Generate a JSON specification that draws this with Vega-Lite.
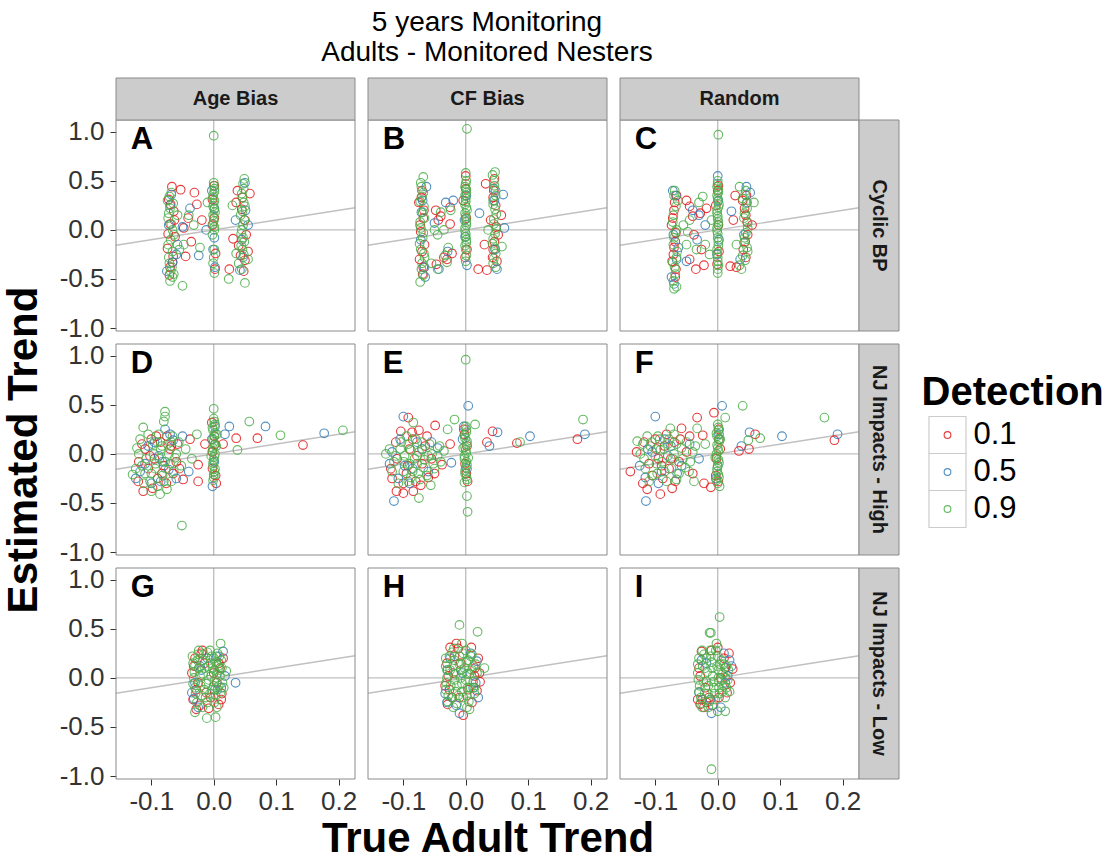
{
  "$schema": "https://vega.github.io/schema/vega-lite/v6.json",
  "background": "white",
  "padding": {"left": 2, "top": 8, "right": 5, "bottom": 5},
  "title": {
    "text": ["5 years Monitoring", "Adults - Monitored Nesters"],
    "fontSize": 28,
    "fontWeight": "normal",
    "font": "Liberation Sans",
    "color": "#000000",
    "lineHeight": 30,
    "anchor": "middle",
    "frame": "group",
    "dx": 371,
    "offset": 11
  },
  "config": {
    "font": "Liberation Sans",
    "view": {"stroke": null},
    "axis": {"labelFontSize": 26, "labelColor": "#333333", "tickColor": "#333333", "tickSize": 6, "domain": false, "grid": false, "titleFontSize": 42, "titleFontWeight": "bold", "titleColor": "#000000"},
    "axisY": {"labelPadding": 6, "titlePadding": 14},
    "axisX": {"labelPadding": 3, "titlePadding": 4}
  },
  "datasets": {
    "pts": [
      {"p":"A","d":"0.1","x":-0.067,"y":0.44},{"p":"A","d":"0.1","x":-0.053,"y":0.41},{"p":"A","d":"0.1","x":-0.072,"y":0.31},{"p":"A","d":"0.1","x":-0.064,"y":0.19},{"p":"A","d":"0.1","x":-0.070,"y":0.06},{"p":"A","d":"0.1","x":-0.062,"y":-0.07},{"p":"A","d":"0.1","x":-0.074,"y":-0.19},{"p":"A","d":"0.1","x":-0.066,"y":-0.33},{"p":"A","d":"0.1","x":-0.071,"y":-0.46},{"p":"A","d":"0.1","x":-0.041,"y":0.12},{"p":"A","d":"0.1","x":-0.031,"y":0.38},{"p":"A","d":"0.1","x":-0.027,"y":0.26},{"p":"A","d":"0.1","x":-0.036,"y":-0.12},{"p":"A","d":"0.1","x":-0.019,"y":0.10},{"p":"A","d":"0.1","x":-0.045,"y":-0.27},{"p":"A","d":"0.1","x":-0.048,"y":0.02},{"p":"A","d":"0.1","x":-0.002,"y":0.31},{"p":"A","d":"0.1","x":0.003,"y":-0.24},{"p":"A","d":"0.1","x":0.001,"y":0.12},{"p":"A","d":"0.1","x":0.002,"y":-0.40},{"p":"A","d":"0.1","x":0.038,"y":0.40},{"p":"A","d":"0.1","x":0.045,"y":0.21},{"p":"A","d":"0.1","x":0.052,"y":-0.05},{"p":"A","d":"0.1","x":0.040,"y":-0.16},{"p":"A","d":"0.1","x":0.050,"y":-0.31},{"p":"A","d":"0.1","x":0.025,"y":-0.40},{"p":"A","d":"0.1","x":0.058,"y":0.37},{"p":"A","d":"0.1","x":0.031,"y":-0.09},{"p":"A","d":"0.1","x":0.036,"y":0.28},{"p":"A","d":"0.1","x":0.055,"y":-0.22},
      {"p":"A","d":"0.1","x":-0.069,"y":0.26},{"p":"A","d":"0.1","x":-0.073,"y":-0.04},{"p":"A","d":"0.1","x":-0.065,"y":-0.27},{"p":"A","d":"0.1","x":-0.070,"y":-0.38},{"p":"A","d":"0.1","x":0.001,"y":0.45},{"p":"A","d":"0.1","x":-0.002,"y":0.05},{"p":"A","d":"0.1","x":0.046,"y":0.33},{"p":"A","d":"0.1","x":0.050,"y":0.10},{"p":"A","d":"0.1","x":0.043,"y":-0.26},{"p":"A","d":"0.1","x":0.048,"y":-0.42},{"p":"A","d":"0.1","x":-0.063,"y":0.10},
      {"p":"A","d":"0.5","x":-0.070,"y":0.25},{"p":"A","d":"0.5","x":-0.060,"y":-0.25},{"p":"A","d":"0.5","x":-0.075,"y":-0.42},{"p":"A","d":"0.5","x":-0.038,"y":0.22},{"p":"A","d":"0.5","x":-0.024,"y":-0.26},{"p":"A","d":"0.5","x":-0.050,"y":0.03},{"p":"A","d":"0.5","x":-0.012,"y":0.00},{"p":"A","d":"0.5","x":0.002,"y":-0.38},{"p":"A","d":"0.5","x":-0.003,"y":0.40},{"p":"A","d":"0.5","x":0.001,"y":-0.08},{"p":"A","d":"0.5","x":0.050,"y":0.48},{"p":"A","d":"0.5","x":0.042,"y":-0.41},{"p":"A","d":"0.5","x":0.035,"y":0.10},{"p":"A","d":"0.5","x":0.055,"y":0.05},{"p":"A","d":"0.5","x":0.047,"y":-0.28},{"p":"A","d":"0.5","x":-0.068,"y":0.36},{"p":"A","d":"0.5","x":-0.058,"y":-0.15},
      {"p":"A","d":"0.5","x":-0.072,"y":0.05},{"p":"A","d":"0.5","x":-0.066,"y":-0.33},{"p":"A","d":"0.5","x":0.001,"y":0.22},{"p":"A","d":"0.5","x":-0.001,"y":-0.20},{"p":"A","d":"0.5","x":0.045,"y":-0.10},{"p":"A","d":"0.5","x":0.051,"y":0.20},
      {"p":"A","d":"0.9","x":0.000,"y":0.96},{"p":"A","d":"0.9","x":-0.068,"y":0.38},{"p":"A","d":"0.9","x":-0.070,"y":0.22},{"p":"A","d":"0.9","x":-0.073,"y":0.12},{"p":"A","d":"0.9","x":-0.066,"y":0.00},{"p":"A","d":"0.9","x":-0.069,"y":-0.10},{"p":"A","d":"0.9","x":-0.072,"y":-0.28},{"p":"A","d":"0.9","x":-0.067,"y":-0.38},{"p":"A","d":"0.9","x":-0.070,"y":-0.52},{"p":"A","d":"0.9","x":-0.050,"y":-0.57},{"p":"A","d":"0.9","x":-0.058,"y":0.15},{"p":"A","d":"0.9","x":-0.048,"y":-0.15},{"p":"A","d":"0.9","x":-0.032,"y":0.05},{"p":"A","d":"0.9","x":-0.022,"y":-0.18},{"p":"A","d":"0.9","x":-0.010,"y":0.28},{"p":"A","d":"0.9","x":-0.064,"y":-0.45},{"p":"A","d":"0.9","x":-0.074,"y":0.30},{"p":"A","d":"0.9","x":0.000,"y":0.48},{"p":"A","d":"0.9","x":0.001,"y":0.42},{"p":"A","d":"0.9","x":-0.001,"y":0.36},{"p":"A","d":"0.9","x":0.001,"y":0.30},{"p":"A","d":"0.9","x":-0.001,"y":0.24},{"p":"A","d":"0.9","x":0.002,"y":0.18},{"p":"A","d":"0.9","x":0.000,"y":0.12},{"p":"A","d":"0.9","x":-0.001,"y":0.06},{"p":"A","d":"0.9","x":0.001,"y":0.00},{"p":"A","d":"0.9","x":-0.002,"y":-0.05},{"p":"A","d":"0.9","x":0.001,"y":-0.20},{"p":"A","d":"0.9","x":0.000,"y":-0.28},{"p":"A","d":"0.9","x":-0.001,"y":-0.34},{"p":"A","d":"0.9","x":0.001,"y":-0.44},{"p":"A","d":"0.9","x":0.049,"y":0.52},{"p":"A","d":"0.9","x":0.048,"y":0.42},{"p":"A","d":"0.9","x":0.046,"y":0.33},{"p":"A","d":"0.9","x":0.050,"y":0.24},{"p":"A","d":"0.9","x":0.043,"y":0.15},{"p":"A","d":"0.9","x":0.047,"y":0.05},{"p":"A","d":"0.9","x":0.044,"y":-0.04},{"p":"A","d":"0.9","x":0.049,"y":-0.12},{"p":"A","d":"0.9","x":0.046,"y":-0.20},{"p":"A","d":"0.9","x":0.040,"y":-0.34},{"p":"A","d":"0.9","x":0.024,"y":-0.50},{"p":"A","d":"0.9","x":0.050,"y":-0.54},{"p":"A","d":"0.9","x":0.030,"y":0.25},{"p":"A","d":"0.9","x":0.055,"y":-0.30},{"p":"A","d":"0.9","x":0.036,"y":-0.24},
      {"p":"A","d":"0.9","x":-0.071,"y":0.34},{"p":"A","d":"0.9","x":-0.065,"y":0.27},{"p":"A","d":"0.9","x":-0.072,"y":0.17},{"p":"A","d":"0.9","x":-0.068,"y":0.06},{"p":"A","d":"0.9","x":-0.064,"y":-0.05},{"p":"A","d":"0.9","x":-0.073,"y":-0.15},{"p":"A","d":"0.9","x":-0.066,"y":-0.22},{"p":"A","d":"0.9","x":-0.071,"y":-0.34},{"p":"A","d":"0.9","x":-0.069,"y":-0.42},{"p":"A","d":"0.9","x":-0.066,"y":-0.48},{"p":"A","d":"0.9","x":0.000,"y":0.45},{"p":"A","d":"0.9","x":0.001,"y":0.39},{"p":"A","d":"0.9","x":-0.001,"y":0.33},{"p":"A","d":"0.9","x":0.000,"y":0.27},{"p":"A","d":"0.9","x":0.001,"y":0.21},{"p":"A","d":"0.9","x":-0.001,"y":0.15},{"p":"A","d":"0.9","x":0.000,"y":0.09},{"p":"A","d":"0.9","x":0.001,"y":0.03},{"p":"A","d":"0.9","x":0.047,"y":0.47},{"p":"A","d":"0.9","x":0.045,"y":0.37},{"p":"A","d":"0.9","x":0.048,"y":0.28},{"p":"A","d":"0.9","x":0.046,"y":0.19},{"p":"A","d":"0.9","x":0.049,"y":0.10},{"p":"A","d":"0.9","x":0.045,"y":0.00},{"p":"A","d":"0.9","x":0.047,"y":-0.08},{"p":"A","d":"0.9","x":0.044,"y":-0.16},{"p":"A","d":"0.9","x":0.048,"y":-0.25},{"p":"A","d":"0.9","x":0.045,"y":-0.40},{"p":"A","d":"0.9","x":-0.055,"y":-0.20},{"p":"A","d":"0.9","x":-0.040,"y":0.15},

      {"p":"B","d":"0.1","x":-0.070,"y":0.40},{"p":"B","d":"0.1","x":-0.075,"y":0.28},{"p":"B","d":"0.1","x":-0.068,"y":0.12},{"p":"B","d":"0.1","x":-0.072,"y":-0.02},{"p":"B","d":"0.1","x":-0.066,"y":-0.15},{"p":"B","d":"0.1","x":-0.074,"y":-0.30},{"p":"B","d":"0.1","x":-0.069,"y":-0.45},{"p":"B","d":"0.1","x":-0.044,"y":0.10},{"p":"B","d":"0.1","x":-0.040,"y":0.14},{"p":"B","d":"0.1","x":-0.025,"y":0.06},{"p":"B","d":"0.1","x":-0.047,"y":-0.35},{"p":"B","d":"0.1","x":-0.030,"y":-0.30},{"p":"B","d":"0.1","x":-0.022,"y":-0.24},{"p":"B","d":"0.1","x":-0.025,"y":0.23},{"p":"B","d":"0.1","x":0.000,"y":0.55},{"p":"B","d":"0.1","x":-0.004,"y":0.30},{"p":"B","d":"0.1","x":0.002,"y":-0.20},{"p":"B","d":"0.1","x":0.032,"y":0.47},{"p":"B","d":"0.1","x":0.045,"y":0.40},{"p":"B","d":"0.1","x":0.048,"y":0.25},{"p":"B","d":"0.1","x":0.040,"y":0.10},{"p":"B","d":"0.1","x":0.052,"y":-0.05},{"p":"B","d":"0.1","x":0.044,"y":-0.20},{"p":"B","d":"0.1","x":0.050,"y":-0.32},{"p":"B","d":"0.1","x":0.020,"y":-0.40},{"p":"B","d":"0.1","x":0.034,"y":-0.41},{"p":"B","d":"0.1","x":0.030,"y":-0.15},{"p":"B","d":"0.1","x":0.057,"y":0.15},
      {"p":"B","d":"0.1","x":-0.071,"y":0.33},{"p":"B","d":"0.1","x":-0.067,"y":0.20},{"p":"B","d":"0.1","x":-0.073,"y":0.05},{"p":"B","d":"0.1","x":-0.070,"y":-0.22},{"p":"B","d":"0.1","x":-0.068,"y":-0.38},{"p":"B","d":"0.1","x":0.000,"y":0.42},{"p":"B","d":"0.1","x":0.001,"y":0.12},{"p":"B","d":"0.1","x":-0.001,"y":-0.28},{"p":"B","d":"0.1","x":0.046,"y":0.52},{"p":"B","d":"0.1","x":0.044,"y":0.33},{"p":"B","d":"0.1","x":0.049,"y":0.03},{"p":"B","d":"0.1","x":0.046,"y":-0.12},{"p":"B","d":"0.1","x":0.043,"y":-0.28},{"p":"B","d":"0.1","x":-0.048,"y":0.20},{"p":"B","d":"0.1","x":-0.035,"y":-0.28},
      {"p":"B","d":"0.5","x":-0.063,"y":0.44},{"p":"B","d":"0.5","x":-0.071,"y":0.18},{"p":"B","d":"0.5","x":-0.066,"y":-0.38},{"p":"B","d":"0.5","x":-0.032,"y":0.28},{"p":"B","d":"0.5","x":-0.050,"y":0.07},{"p":"B","d":"0.5","x":-0.029,"y":-0.22},{"p":"B","d":"0.5","x":-0.020,"y":0.30},{"p":"B","d":"0.5","x":0.002,"y":-0.36},{"p":"B","d":"0.5","x":-0.002,"y":0.10},{"p":"B","d":"0.5","x":0.060,"y":0.36},{"p":"B","d":"0.5","x":0.050,"y":-0.40},{"p":"B","d":"0.5","x":0.062,"y":0.02},{"p":"B","d":"0.5","x":0.022,"y":0.17},{"p":"B","d":"0.5","x":0.046,"y":0.30},
      {"p":"B","d":"0.5","x":-0.069,"y":0.30},{"p":"B","d":"0.5","x":-0.072,"y":-0.10},{"p":"B","d":"0.5","x":-0.065,"y":-0.48},{"p":"B","d":"0.5","x":0.001,"y":0.35},{"p":"B","d":"0.5","x":-0.001,"y":-0.07},{"p":"B","d":"0.5","x":0.045,"y":0.42},{"p":"B","d":"0.5","x":0.047,"y":-0.20},{"p":"B","d":"0.5","x":-0.043,"y":-0.40},
      {"p":"B","d":"0.9","x":0.002,"y":1.03},{"p":"B","d":"0.9","x":-0.068,"y":0.54},{"p":"B","d":"0.9","x":-0.072,"y":0.48},{"p":"B","d":"0.9","x":-0.070,"y":0.34},{"p":"B","d":"0.9","x":-0.067,"y":0.24},{"p":"B","d":"0.9","x":-0.073,"y":0.08},{"p":"B","d":"0.9","x":-0.069,"y":-0.08},{"p":"B","d":"0.9","x":-0.072,"y":-0.20},{"p":"B","d":"0.9","x":-0.066,"y":-0.28},{"p":"B","d":"0.9","x":-0.071,"y":-0.40},{"p":"B","d":"0.9","x":-0.073,"y":-0.53},{"p":"B","d":"0.9","x":-0.055,"y":-0.34},{"p":"B","d":"0.9","x":-0.050,"y":0.00},{"p":"B","d":"0.9","x":-0.045,"y":-0.05},{"p":"B","d":"0.9","x":-0.028,"y":-0.18},{"p":"B","d":"0.9","x":-0.033,"y":-0.26},{"p":"B","d":"0.9","x":-0.024,"y":0.20},{"p":"B","d":"0.9","x":-0.040,"y":0.18},{"p":"B","d":"0.9","x":-0.030,"y":-0.33},{"p":"B","d":"0.9","x":0.000,"y":0.58},{"p":"B","d":"0.9","x":0.001,"y":0.50},{"p":"B","d":"0.9","x":-0.001,"y":0.44},{"p":"B","d":"0.9","x":0.001,"y":0.38},{"p":"B","d":"0.9","x":0.000,"y":0.32},{"p":"B","d":"0.9","x":-0.001,"y":0.26},{"p":"B","d":"0.9","x":0.002,"y":0.20},{"p":"B","d":"0.9","x":0.000,"y":0.14},{"p":"B","d":"0.9","x":0.001,"y":0.08},{"p":"B","d":"0.9","x":-0.001,"y":0.02},{"p":"B","d":"0.9","x":0.000,"y":-0.04},{"p":"B","d":"0.9","x":0.001,"y":-0.10},{"p":"B","d":"0.9","x":-0.001,"y":-0.16},{"p":"B","d":"0.9","x":0.001,"y":-0.26},{"p":"B","d":"0.9","x":0.000,"y":-0.32},{"p":"B","d":"0.9","x":0.047,"y":0.59},{"p":"B","d":"0.9","x":0.043,"y":0.56},{"p":"B","d":"0.9","x":0.046,"y":0.45},{"p":"B","d":"0.9","x":0.048,"y":0.35},{"p":"B","d":"0.9","x":0.044,"y":0.26},{"p":"B","d":"0.9","x":0.049,"y":0.16},{"p":"B","d":"0.9","x":0.045,"y":0.06},{"p":"B","d":"0.9","x":0.047,"y":-0.04},{"p":"B","d":"0.9","x":0.043,"y":-0.14},{"p":"B","d":"0.9","x":0.048,"y":-0.24},{"p":"B","d":"0.9","x":0.044,"y":-0.34},{"p":"B","d":"0.9","x":0.036,"y":0.00},{"p":"B","d":"0.9","x":0.058,"y":-0.17},
      {"p":"B","d":"0.9","x":-0.071,"y":0.44},{"p":"B","d":"0.9","x":-0.068,"y":0.38},{"p":"B","d":"0.9","x":-0.073,"y":0.29},{"p":"B","d":"0.9","x":-0.069,"y":0.18},{"p":"B","d":"0.9","x":-0.066,"y":0.12},{"p":"B","d":"0.9","x":-0.072,"y":0.02},{"p":"B","d":"0.9","x":-0.068,"y":-0.03},{"p":"B","d":"0.9","x":-0.074,"y":-0.14},{"p":"B","d":"0.9","x":-0.067,"y":-0.24},{"p":"B","d":"0.9","x":-0.070,"y":-0.34},{"p":"B","d":"0.9","x":-0.068,"y":-0.46},{"p":"B","d":"0.9","x":0.000,"y":0.47},{"p":"B","d":"0.9","x":0.001,"y":0.41},{"p":"B","d":"0.9","x":-0.001,"y":0.35},{"p":"B","d":"0.9","x":0.000,"y":0.29},{"p":"B","d":"0.9","x":0.001,"y":0.23},{"p":"B","d":"0.9","x":-0.001,"y":0.17},{"p":"B","d":"0.9","x":0.000,"y":0.11},{"p":"B","d":"0.9","x":0.001,"y":0.05},{"p":"B","d":"0.9","x":-0.001,"y":-0.01},{"p":"B","d":"0.9","x":0.000,"y":-0.07},{"p":"B","d":"0.9","x":0.001,"y":-0.13},{"p":"B","d":"0.9","x":0.000,"y":-0.20},{"p":"B","d":"0.9","x":0.045,"y":0.50},{"p":"B","d":"0.9","x":0.048,"y":0.40},{"p":"B","d":"0.9","x":0.044,"y":0.30},{"p":"B","d":"0.9","x":0.047,"y":0.21},{"p":"B","d":"0.9","x":0.045,"y":0.11},{"p":"B","d":"0.9","x":0.049,"y":0.01},{"p":"B","d":"0.9","x":0.044,"y":-0.09},{"p":"B","d":"0.9","x":0.047,"y":-0.19},{"p":"B","d":"0.9","x":0.045,"y":-0.29},{"p":"B","d":"0.9","x":0.048,"y":-0.38},{"p":"B","d":"0.9","x":-0.045,"y":-0.40},{"p":"B","d":"0.9","x":-0.035,"y":0.00},

      {"p":"C","d":"0.1","x":-0.066,"y":0.35},{"p":"C","d":"0.1","x":-0.070,"y":0.20},{"p":"C","d":"0.1","x":-0.074,"y":0.05},{"p":"C","d":"0.1","x":-0.068,"y":-0.12},{"p":"C","d":"0.1","x":-0.071,"y":-0.25},{"p":"C","d":"0.1","x":-0.067,"y":-0.40},{"p":"C","d":"0.1","x":-0.045,"y":0.24},{"p":"C","d":"0.1","x":-0.040,"y":0.14},{"p":"C","d":"0.1","x":-0.028,"y":0.17},{"p":"C","d":"0.1","x":-0.038,"y":-0.05},{"p":"C","d":"0.1","x":-0.026,"y":-0.20},{"p":"C","d":"0.1","x":-0.018,"y":0.22},{"p":"C","d":"0.1","x":-0.045,"y":-0.30},{"p":"C","d":"0.1","x":-0.022,"y":-0.36},{"p":"C","d":"0.1","x":0.001,"y":0.45},{"p":"C","d":"0.1","x":-0.003,"y":0.25},{"p":"C","d":"0.1","x":0.002,"y":-0.22},{"p":"C","d":"0.1","x":0.028,"y":0.35},{"p":"C","d":"0.1","x":0.040,"y":0.30},{"p":"C","d":"0.1","x":0.045,"y":0.15},{"p":"C","d":"0.1","x":0.048,"y":-0.05},{"p":"C","d":"0.1","x":0.041,"y":-0.20},{"p":"C","d":"0.1","x":0.030,"y":-0.38},{"p":"C","d":"0.1","x":0.020,"y":-0.37},{"p":"C","d":"0.1","x":0.055,"y":0.05},{"p":"C","d":"0.1","x":0.025,"y":0.10},
      {"p":"C","d":"0.1","x":-0.069,"y":0.28},{"p":"C","d":"0.1","x":-0.072,"y":0.12},{"p":"C","d":"0.1","x":-0.067,"y":-0.03},{"p":"C","d":"0.1","x":-0.070,"y":-0.18},{"p":"C","d":"0.1","x":-0.073,"y":-0.32},{"p":"C","d":"0.1","x":-0.068,"y":-0.48},{"p":"C","d":"0.1","x":0.000,"y":0.40},{"p":"C","d":"0.1","x":0.001,"y":0.05},{"p":"C","d":"0.1","x":-0.001,"y":-0.35},{"p":"C","d":"0.1","x":0.046,"y":0.35},{"p":"C","d":"0.1","x":0.043,"y":0.22},{"p":"C","d":"0.1","x":0.047,"y":0.08},{"p":"C","d":"0.1","x":0.044,"y":-0.12},{"p":"C","d":"0.1","x":0.045,"y":-0.28},{"p":"C","d":"0.1","x":-0.050,"y":0.30},{"p":"C","d":"0.1","x":-0.035,"y":-0.40},
      {"p":"C","d":"0.5","x":-0.072,"y":0.40},{"p":"C","d":"0.5","x":-0.063,"y":-0.18},{"p":"C","d":"0.5","x":-0.074,"y":-0.48},{"p":"C","d":"0.5","x":-0.070,"y":-0.55},{"p":"C","d":"0.5","x":-0.040,"y":0.20},{"p":"C","d":"0.5","x":-0.050,"y":-0.32},{"p":"C","d":"0.5","x":-0.020,"y":0.05},{"p":"C","d":"0.5","x":-0.033,"y":-0.10},{"p":"C","d":"0.5","x":0.000,"y":0.55},{"p":"C","d":"0.5","x":0.002,"y":-0.10},{"p":"C","d":"0.5","x":0.046,"y":0.44},{"p":"C","d":"0.5","x":0.052,"y":0.38},{"p":"C","d":"0.5","x":0.036,"y":-0.30},{"p":"C","d":"0.5","x":0.022,"y":0.19},
      {"p":"C","d":"0.5","x":-0.067,"y":0.35},{"p":"C","d":"0.5","x":-0.071,"y":-0.05},{"p":"C","d":"0.5","x":-0.066,"y":-0.30},{"p":"C","d":"0.5","x":0.001,"y":0.30},{"p":"C","d":"0.5","x":-0.001,"y":-0.25},{"p":"C","d":"0.5","x":0.047,"y":0.28},{"p":"C","d":"0.5","x":0.042,"y":-0.05},{"p":"C","d":"0.5","x":-0.030,"y":0.15},
      {"p":"C","d":"0.9","x":0.001,"y":0.97},{"p":"C","d":"0.9","x":-0.069,"y":0.40},{"p":"C","d":"0.9","x":-0.064,"y":0.30},{"p":"C","d":"0.9","x":-0.071,"y":0.15},{"p":"C","d":"0.9","x":-0.066,"y":0.00},{"p":"C","d":"0.9","x":-0.070,"y":-0.08},{"p":"C","d":"0.9","x":-0.065,"y":-0.22},{"p":"C","d":"0.9","x":-0.072,"y":-0.33},{"p":"C","d":"0.9","x":-0.068,"y":-0.45},{"p":"C","d":"0.9","x":-0.070,"y":-0.60},{"p":"C","d":"0.9","x":-0.066,"y":-0.58},{"p":"C","d":"0.9","x":-0.055,"y":0.05},{"p":"C","d":"0.9","x":-0.048,"y":-0.02},{"p":"C","d":"0.9","x":-0.050,"y":-0.15},{"p":"C","d":"0.9","x":-0.030,"y":0.28},{"p":"C","d":"0.9","x":-0.024,"y":0.34},{"p":"C","d":"0.9","x":-0.034,"y":-0.20},{"p":"C","d":"0.9","x":-0.013,"y":-0.25},{"p":"C","d":"0.9","x":-0.010,"y":0.10},{"p":"C","d":"0.9","x":0.000,"y":0.50},{"p":"C","d":"0.9","x":-0.001,"y":0.44},{"p":"C","d":"0.9","x":0.001,"y":0.38},{"p":"C","d":"0.9","x":0.000,"y":0.32},{"p":"C","d":"0.9","x":0.002,"y":0.26},{"p":"C","d":"0.9","x":-0.001,"y":0.20},{"p":"C","d":"0.9","x":0.000,"y":0.14},{"p":"C","d":"0.9","x":0.001,"y":0.08},{"p":"C","d":"0.9","x":-0.001,"y":0.02},{"p":"C","d":"0.9","x":0.000,"y":-0.04},{"p":"C","d":"0.9","x":0.001,"y":-0.12},{"p":"C","d":"0.9","x":-0.001,"y":-0.20},{"p":"C","d":"0.9","x":0.000,"y":-0.28},{"p":"C","d":"0.9","x":0.001,"y":-0.36},{"p":"C","d":"0.9","x":0.000,"y":-0.44},{"p":"C","d":"0.9","x":0.035,"y":0.44},{"p":"C","d":"0.9","x":0.045,"y":0.40},{"p":"C","d":"0.9","x":0.040,"y":0.32},{"p":"C","d":"0.9","x":0.047,"y":0.22},{"p":"C","d":"0.9","x":0.042,"y":0.12},{"p":"C","d":"0.9","x":0.048,"y":0.02},{"p":"C","d":"0.9","x":0.043,"y":-0.08},{"p":"C","d":"0.9","x":0.047,"y":-0.18},{"p":"C","d":"0.9","x":0.040,"y":-0.26},{"p":"C","d":"0.9","x":0.035,"y":-0.36},{"p":"C","d":"0.9","x":0.058,"y":0.28},{"p":"C","d":"0.9","x":0.030,"y":-0.15},
      {"p":"C","d":"0.9","x":-0.070,"y":0.35},{"p":"C","d":"0.9","x":-0.067,"y":0.24},{"p":"C","d":"0.9","x":-0.072,"y":0.08},{"p":"C","d":"0.9","x":-0.068,"y":-0.02},{"p":"C","d":"0.9","x":-0.071,"y":-0.15},{"p":"C","d":"0.9","x":-0.066,"y":-0.28},{"p":"C","d":"0.9","x":-0.069,"y":-0.38},{"p":"C","d":"0.9","x":-0.071,"y":-0.52},{"p":"C","d":"0.9","x":0.000,"y":0.47},{"p":"C","d":"0.9","x":0.001,"y":0.41},{"p":"C","d":"0.9","x":-0.001,"y":0.35},{"p":"C","d":"0.9","x":0.000,"y":0.29},{"p":"C","d":"0.9","x":0.001,"y":0.23},{"p":"C","d":"0.9","x":-0.001,"y":0.17},{"p":"C","d":"0.9","x":0.000,"y":0.11},{"p":"C","d":"0.9","x":0.001,"y":0.05},{"p":"C","d":"0.9","x":-0.001,"y":-0.01},{"p":"C","d":"0.9","x":0.000,"y":-0.08},{"p":"C","d":"0.9","x":0.001,"y":-0.16},{"p":"C","d":"0.9","x":-0.001,"y":-0.24},{"p":"C","d":"0.9","x":0.000,"y":-0.32},{"p":"C","d":"0.9","x":0.000,"y":-0.40},{"p":"C","d":"0.9","x":0.044,"y":0.36},{"p":"C","d":"0.9","x":0.046,"y":0.27},{"p":"C","d":"0.9","x":0.043,"y":0.17},{"p":"C","d":"0.9","x":0.048,"y":0.07},{"p":"C","d":"0.9","x":0.045,"y":-0.03},{"p":"C","d":"0.9","x":0.042,"y":-0.13},{"p":"C","d":"0.9","x":0.048,"y":-0.22},{"p":"C","d":"0.9","x":0.044,"y":-0.31},{"p":"C","d":"0.9","x":0.038,"y":-0.40},{"p":"C","d":"0.9","x":-0.045,"y":0.10},{"p":"C","d":"0.9","x":-0.020,"y":-0.15},

      {"p":"D","d":"0.1","x":-0.121,"y":-0.28},{"p":"D","d":"0.1","x":-0.113,"y":-0.38},{"p":"D","d":"0.1","x":-0.025,"y":-0.11},{"p":"D","d":"0.1","x":-0.025,"y":-0.28},{"p":"D","d":"0.1","x":-0.049,"y":-0.26},{"p":"D","d":"0.1","x":-0.038,"y":0.15},{"p":"D","d":"0.1","x":-0.014,"y":0.10},{"p":"D","d":"0.1","x":0.036,"y":0.16},{"p":"D","d":"0.1","x":0.015,"y":0.10},{"p":"D","d":"0.1","x":0.070,"y":0.16},{"p":"D","d":"0.1","x":0.143,"y":0.09},{"p":"D","d":"0.1","x":-0.100,"y":0.15},{"p":"D","d":"0.1","x":-0.085,"y":0.12},{"p":"D","d":"0.1","x":-0.070,"y":0.05},{"p":"D","d":"0.1","x":-0.095,"y":-0.05},{"p":"D","d":"0.1","x":-0.080,"y":-0.12},{"p":"D","d":"0.1","x":-0.065,"y":-0.20},{"p":"D","d":"0.1","x":-0.105,"y":-0.15},{"p":"D","d":"0.1","x":-0.058,"y":0.10},{"p":"D","d":"0.1","x":-0.090,"y":-0.25},{"p":"D","d":"0.1","x":-0.075,"y":0.18},{"p":"D","d":"0.1","x":-0.003,"y":0.32},{"p":"D","d":"0.1","x":0.004,"y":-0.30},{"p":"D","d":"0.1","x":0.001,"y":0.18},{"p":"D","d":"0.1","x":-0.002,"y":-0.15},{"p":"D","d":"0.1","x":-0.110,"y":0.05},{"p":"D","d":"0.1","x":-0.060,"y":-0.08},
      {"p":"D","d":"0.1","x":-0.115,"y":0.10},{"p":"D","d":"0.1","x":-0.102,"y":-0.02},{"p":"D","d":"0.1","x":-0.092,"y":0.18},{"p":"D","d":"0.1","x":-0.083,"y":-0.20},{"p":"D","d":"0.1","x":-0.076,"y":-0.30},{"p":"D","d":"0.1","x":-0.068,"y":0.08},{"p":"D","d":"0.1","x":-0.055,"y":-0.15},{"p":"D","d":"0.1","x":-0.098,"y":-0.35},{"p":"D","d":"0.1","x":-0.120,"y":-0.08},{"p":"D","d":"0.1","x":0.002,"y":0.10},{"p":"D","d":"0.1","x":-0.002,"y":0.02},{"p":"D","d":"0.1","x":0.003,"y":-0.22},
      {"p":"D","d":"0.5","x":0.025,"y":0.28},{"p":"D","d":"0.5","x":0.018,"y":0.20},{"p":"D","d":"0.5","x":0.083,"y":0.28},{"p":"D","d":"0.5","x":0.177,"y":0.21},{"p":"D","d":"0.5","x":-0.040,"y":-0.18},{"p":"D","d":"0.5","x":-0.078,"y":0.25},{"p":"D","d":"0.5","x":-0.118,"y":-0.18},{"p":"D","d":"0.5","x":-0.105,"y":0.08},{"p":"D","d":"0.5","x":-0.088,"y":-0.02},{"p":"D","d":"0.5","x":-0.065,"y":0.14},{"p":"D","d":"0.5","x":-0.072,"y":-0.16},{"p":"D","d":"0.5","x":-0.100,"y":-0.30},{"p":"D","d":"0.5","x":-0.050,"y":0.18},{"p":"D","d":"0.5","x":0.002,"y":0.28},{"p":"D","d":"0.5","x":-0.002,"y":-0.33},{"p":"D","d":"0.5","x":-0.082,"y":-0.08},
      {"p":"D","d":"0.5","x":-0.110,"y":-0.10},{"p":"D","d":"0.5","x":-0.095,"y":0.12},{"p":"D","d":"0.5","x":-0.085,"y":-0.28},{"p":"D","d":"0.5","x":-0.070,"y":0.20},{"p":"D","d":"0.5","x":-0.060,"y":-0.25},{"p":"D","d":"0.5","x":-0.125,"y":-0.25},{"p":"D","d":"0.5","x":0.001,"y":-0.08},{"p":"D","d":"0.5","x":-0.003,"y":0.15},
      {"p":"D","d":"0.9","x":-0.051,"y":-0.73},{"p":"D","d":"0.9","x":0.000,"y":0.46},{"p":"D","d":"0.9","x":-0.078,"y":0.43},{"p":"D","d":"0.9","x":-0.078,"y":0.38},{"p":"D","d":"0.9","x":-0.080,"y":0.33},{"p":"D","d":"0.9","x":-0.113,"y":0.27},{"p":"D","d":"0.9","x":-0.123,"y":0.06},{"p":"D","d":"0.9","x":-0.130,"y":-0.21},{"p":"D","d":"0.9","x":-0.086,"y":-0.41},{"p":"D","d":"0.9","x":-0.027,"y":0.20},{"p":"D","d":"0.9","x":0.038,"y":0.04},{"p":"D","d":"0.9","x":0.057,"y":0.33},{"p":"D","d":"0.9","x":0.107,"y":0.19},{"p":"D","d":"0.9","x":0.207,"y":0.24},{"p":"D","d":"0.9","x":-0.098,"y":0.10},{"p":"D","d":"0.9","x":-0.085,"y":0.05},{"p":"D","d":"0.9","x":-0.072,"y":0.00},{"p":"D","d":"0.9","x":-0.108,"y":-0.05},{"p":"D","d":"0.9","x":-0.093,"y":-0.10},{"p":"D","d":"0.9","x":-0.078,"y":-0.08},{"p":"D","d":"0.9","x":-0.062,"y":-0.04},{"p":"D","d":"0.9","x":-0.100,"y":-0.20},{"p":"D","d":"0.9","x":-0.082,"y":-0.22},{"p":"D","d":"0.9","x":-0.068,"y":-0.28},{"p":"D","d":"0.9","x":-0.090,"y":-0.33},{"p":"D","d":"0.9","x":-0.075,"y":-0.36},{"p":"D","d":"0.9","x":-0.115,"y":-0.12},{"p":"D","d":"0.9","x":-0.052,"y":-0.12},{"p":"D","d":"0.9","x":-0.088,"y":0.20},{"p":"D","d":"0.9","x":-0.068,"y":0.12},{"p":"D","d":"0.9","x":-0.120,"y":0.00},{"p":"D","d":"0.9","x":-0.045,"y":0.05},{"p":"D","d":"0.9","x":-0.035,"y":-0.05},{"p":"D","d":"0.9","x":0.000,"y":0.36},{"p":"D","d":"0.9","x":0.002,"y":0.30},{"p":"D","d":"0.9","x":-0.001,"y":0.24},{"p":"D","d":"0.9","x":0.001,"y":0.18},{"p":"D","d":"0.9","x":0.000,"y":0.12},{"p":"D","d":"0.9","x":-0.001,"y":0.06},{"p":"D","d":"0.9","x":0.002,"y":0.00},{"p":"D","d":"0.9","x":0.000,"y":-0.06},{"p":"D","d":"0.9","x":-0.001,"y":-0.12},{"p":"D","d":"0.9","x":0.001,"y":-0.18},{"p":"D","d":"0.9","x":0.000,"y":-0.24},{"p":"D","d":"0.9","x":0.004,"y":0.08},{"p":"D","d":"0.9","x":-0.004,"y":-0.02},{"p":"D","d":"0.9","x":0.005,"y":0.20},
      {"p":"D","d":"0.9","x":-0.118,"y":0.15},{"p":"D","d":"0.9","x":-0.110,"y":-0.20},{"p":"D","d":"0.9","x":-0.105,"y":0.20},{"p":"D","d":"0.9","x":-0.102,"y":-0.28},{"p":"D","d":"0.9","x":-0.096,"y":0.00},{"p":"D","d":"0.9","x":-0.094,"y":-0.15},{"p":"D","d":"0.9","x":-0.090,"y":0.12},{"p":"D","d":"0.9","x":-0.087,"y":-0.05},{"p":"D","d":"0.9","x":-0.083,"y":0.08},{"p":"D","d":"0.9","x":-0.080,"y":-0.28},{"p":"D","d":"0.9","x":-0.077,"y":-0.15},{"p":"D","d":"0.9","x":-0.074,"y":0.10},{"p":"D","d":"0.9","x":-0.070,"y":-0.10},{"p":"D","d":"0.9","x":-0.066,"y":0.18},{"p":"D","d":"0.9","x":-0.064,"y":-0.18},{"p":"D","d":"0.9","x":-0.060,"y":0.00},{"p":"D","d":"0.9","x":-0.056,"y":0.12},{"p":"D","d":"0.9","x":-0.112,"y":-0.30},{"p":"D","d":"0.9","x":-0.100,"y":-0.38},{"p":"D","d":"0.9","x":-0.125,"y":-0.15},{"p":"D","d":"0.9","x":0.001,"y":0.33},{"p":"D","d":"0.9","x":-0.002,"y":0.27},{"p":"D","d":"0.9","x":0.002,"y":0.21},{"p":"D","d":"0.9","x":-0.001,"y":0.15},{"p":"D","d":"0.9","x":0.001,"y":0.09},{"p":"D","d":"0.9","x":-0.002,"y":0.03},{"p":"D","d":"0.9","x":0.001,"y":-0.03},{"p":"D","d":"0.9","x":-0.001,"y":-0.09},{"p":"D","d":"0.9","x":0.002,"y":-0.15},{"p":"D","d":"0.9","x":0.000,"y":-0.21},{"p":"D","d":"0.9","x":-0.001,"y":-0.27},

      {"p":"E","d":"0.1","x":-0.092,"y":0.37},{"p":"E","d":"0.1","x":-0.104,"y":0.23},{"p":"E","d":"0.1","x":-0.075,"y":0.24},{"p":"E","d":"0.1","x":-0.049,"y":0.29},{"p":"E","d":"0.1","x":-0.111,"y":-0.38},{"p":"E","d":"0.1","x":-0.100,"y":-0.40},{"p":"E","d":"0.1","x":-0.084,"y":-0.38},{"p":"E","d":"0.1","x":-0.060,"y":-0.24},{"p":"E","d":"0.1","x":-0.038,"y":-0.11},{"p":"E","d":"0.1","x":-0.025,"y":0.10},{"p":"E","d":"0.1","x":0.034,"y":0.12},{"p":"E","d":"0.1","x":0.043,"y":0.23},{"p":"E","d":"0.1","x":0.082,"y":0.11},{"p":"E","d":"0.1","x":0.179,"y":0.15},{"p":"E","d":"0.1","x":-0.110,"y":-0.05},{"p":"E","d":"0.1","x":-0.090,"y":0.05},{"p":"E","d":"0.1","x":-0.070,"y":-0.10},{"p":"E","d":"0.1","x":-0.095,"y":-0.20},{"p":"E","d":"0.1","x":-0.080,"y":-0.28},{"p":"E","d":"0.1","x":-0.065,"y":0.08},{"p":"E","d":"0.1","x":-0.055,"y":-0.05},{"p":"E","d":"0.1","x":-0.120,"y":-0.15},{"p":"E","d":"0.1","x":-0.003,"y":0.25},{"p":"E","d":"0.1","x":0.003,"y":-0.28},{"p":"E","d":"0.1","x":-0.001,"y":-0.10},{"p":"E","d":"0.1","x":-0.085,"y":0.15},
      {"p":"E","d":"0.1","x":-0.112,"y":0.12},{"p":"E","d":"0.1","x":-0.100,"y":-0.30},{"p":"E","d":"0.1","x":-0.093,"y":-0.12},{"p":"E","d":"0.1","x":-0.086,"y":0.22},{"p":"E","d":"0.1","x":-0.078,"y":-0.02},{"p":"E","d":"0.1","x":-0.072,"y":-0.32},{"p":"E","d":"0.1","x":-0.062,"y":0.18},{"p":"E","d":"0.1","x":-0.050,"y":-0.20},{"p":"E","d":"0.1","x":-0.118,"y":-0.25},{"p":"E","d":"0.1","x":0.002,"y":0.08},{"p":"E","d":"0.1","x":-0.002,"y":0.20},{"p":"E","d":"0.1","x":0.001,"y":-0.20},
      {"p":"E","d":"0.5","x":-0.100,"y":0.38},{"p":"E","d":"0.5","x":-0.115,"y":-0.48},{"p":"E","d":"0.5","x":-0.023,"y":-0.09},{"p":"E","d":"0.5","x":0.004,"y":0.49},{"p":"E","d":"0.5","x":0.038,"y":0.08},{"p":"E","d":"0.5","x":0.051,"y":0.22},{"p":"E","d":"0.5","x":0.103,"y":0.18},{"p":"E","d":"0.5","x":0.191,"y":0.20},{"p":"E","d":"0.5","x":-0.118,"y":0.02},{"p":"E","d":"0.5","x":-0.098,"y":-0.12},{"p":"E","d":"0.5","x":-0.078,"y":0.12},{"p":"E","d":"0.5","x":-0.060,"y":-0.18},{"p":"E","d":"0.5","x":-0.108,"y":-0.25},{"p":"E","d":"0.5","x":-0.005,"y":0.15},{"p":"E","d":"0.5","x":-0.045,"y":0.06},
      {"p":"E","d":"0.5","x":-0.122,"y":-0.10},{"p":"E","d":"0.5","x":-0.105,"y":0.15},{"p":"E","d":"0.5","x":-0.090,"y":-0.30},{"p":"E","d":"0.5","x":-0.070,"y":0.05},{"p":"E","d":"0.5","x":-0.055,"y":0.12},{"p":"E","d":"0.5","x":-0.085,"y":-0.15},{"p":"E","d":"0.5","x":0.002,"y":-0.15},{"p":"E","d":"0.5","x":-0.003,"y":0.28},
      {"p":"E","d":"0.9","x":-0.084,"y":0.32},{"p":"E","d":"0.9","x":-0.075,"y":-0.45},{"p":"E","d":"0.9","x":-0.056,"y":-0.32},{"p":"E","d":"0.9","x":-0.128,"y":0.00},{"p":"E","d":"0.9","x":-0.018,"y":0.35},{"p":"E","d":"0.9","x":-0.029,"y":0.25},{"p":"E","d":"0.9","x":0.000,"y":0.96},{"p":"E","d":"0.9","x":0.015,"y":0.30},{"p":"E","d":"0.9","x":0.002,"y":-0.43},{"p":"E","d":"0.9","x":0.003,"y":-0.59},{"p":"E","d":"0.9","x":0.087,"y":0.12},{"p":"E","d":"0.9","x":0.188,"y":0.35},{"p":"E","d":"0.9","x":-0.115,"y":-0.08},{"p":"E","d":"0.9","x":-0.105,"y":0.05},{"p":"E","d":"0.9","x":-0.098,"y":-0.02},{"p":"E","d":"0.9","x":-0.090,"y":-0.10},{"p":"E","d":"0.9","x":-0.082,"y":-0.05},{"p":"E","d":"0.9","x":-0.075,"y":0.02},{"p":"E","d":"0.9","x":-0.068,"y":-0.14},{"p":"E","d":"0.9","x":-0.060,"y":-0.02},{"p":"E","d":"0.9","x":-0.052,"y":-0.10},{"p":"E","d":"0.9","x":-0.100,"y":-0.18},{"p":"E","d":"0.9","x":-0.088,"y":-0.24},{"p":"E","d":"0.9","x":-0.076,"y":-0.20},{"p":"E","d":"0.9","x":-0.092,"y":0.10},{"p":"E","d":"0.9","x":-0.070,"y":0.12},{"p":"E","d":"0.9","x":-0.045,"y":-0.02},{"p":"E","d":"0.9","x":-0.035,"y":0.03},{"p":"E","d":"0.9","x":0.000,"y":0.28},{"p":"E","d":"0.9","x":0.001,"y":0.22},{"p":"E","d":"0.9","x":-0.001,"y":0.16},{"p":"E","d":"0.9","x":0.002,"y":0.10},{"p":"E","d":"0.9","x":0.000,"y":0.04},{"p":"E","d":"0.9","x":-0.002,"y":-0.02},{"p":"E","d":"0.9","x":0.001,"y":-0.08},{"p":"E","d":"0.9","x":0.000,"y":-0.14},{"p":"E","d":"0.9","x":-0.001,"y":-0.20},{"p":"E","d":"0.9","x":0.002,"y":-0.26},{"p":"E","d":"0.9","x":-0.004,"y":0.06},{"p":"E","d":"0.9","x":0.004,"y":-0.04},
      {"p":"E","d":"0.9","x":-0.122,"y":0.05},{"p":"E","d":"0.9","x":-0.118,"y":-0.18},{"p":"E","d":"0.9","x":-0.112,"y":-0.02},{"p":"E","d":"0.9","x":-0.108,"y":-0.30},{"p":"E","d":"0.9","x":-0.103,"y":0.12},{"p":"E","d":"0.9","x":-0.099,"y":-0.08},{"p":"E","d":"0.9","x":-0.095,"y":0.18},{"p":"E","d":"0.9","x":-0.092,"y":-0.28},{"p":"E","d":"0.9","x":-0.088,"y":0.04},{"p":"E","d":"0.9","x":-0.085,"y":-0.18},{"p":"E","d":"0.9","x":-0.080,"y":0.15},{"p":"E","d":"0.9","x":-0.078,"y":-0.10},{"p":"E","d":"0.9","x":-0.073,"y":-0.26},{"p":"E","d":"0.9","x":-0.070,"y":0.05},{"p":"E","d":"0.9","x":-0.066,"y":-0.06},{"p":"E","d":"0.9","x":-0.062,"y":-0.22},{"p":"E","d":"0.9","x":-0.058,"y":0.10},{"p":"E","d":"0.9","x":-0.054,"y":0.00},{"p":"E","d":"0.9","x":-0.050,"y":-0.15},{"p":"E","d":"0.9","x":-0.042,"y":0.08},{"p":"E","d":"0.9","x":-0.040,"y":-0.08},{"p":"E","d":"0.9","x":0.001,"y":0.25},{"p":"E","d":"0.9","x":-0.002,"y":0.19},{"p":"E","d":"0.9","x":0.002,"y":0.13},{"p":"E","d":"0.9","x":-0.001,"y":0.07},{"p":"E","d":"0.9","x":0.001,"y":0.01},{"p":"E","d":"0.9","x":-0.002,"y":-0.05},{"p":"E","d":"0.9","x":0.002,"y":-0.11},{"p":"E","d":"0.9","x":-0.001,"y":-0.17},{"p":"E","d":"0.9","x":0.001,"y":-0.23},{"p":"E","d":"0.9","x":-0.002,"y":-0.29},

      {"p":"F","d":"0.1","x":-0.033,"y":0.37},{"p":"F","d":"0.1","x":-0.006,"y":0.42},{"p":"F","d":"0.1","x":-0.140,"y":-0.18},{"p":"F","d":"0.1","x":-0.113,"y":-0.36},{"p":"F","d":"0.1","x":-0.092,"y":-0.41},{"p":"F","d":"0.1","x":-0.073,"y":-0.35},{"p":"F","d":"0.1","x":-0.022,"y":-0.30},{"p":"F","d":"0.1","x":-0.011,"y":-0.34},{"p":"F","d":"0.1","x":-0.058,"y":0.26},{"p":"F","d":"0.1","x":-0.024,"y":0.19},{"p":"F","d":"0.1","x":0.050,"y":0.05},{"p":"F","d":"0.1","x":0.034,"y":0.03},{"p":"F","d":"0.1","x":0.060,"y":0.20},{"p":"F","d":"0.1","x":0.187,"y":0.14},{"p":"F","d":"0.1","x":-0.100,"y":0.15},{"p":"F","d":"0.1","x":-0.085,"y":0.08},{"p":"F","d":"0.1","x":-0.070,"y":0.12},{"p":"F","d":"0.1","x":-0.095,"y":-0.05},{"p":"F","d":"0.1","x":-0.078,"y":-0.15},{"p":"F","d":"0.1","x":-0.062,"y":-0.08},{"p":"F","d":"0.1","x":-0.110,"y":-0.10},{"p":"F","d":"0.1","x":-0.050,"y":0.02},{"p":"F","d":"0.1","x":-0.040,"y":-0.20},{"p":"F","d":"0.1","x":-0.088,"y":-0.25},{"p":"F","d":"0.1","x":0.002,"y":0.25},{"p":"F","d":"0.1","x":-0.003,"y":-0.22},{"p":"F","d":"0.1","x":0.004,"y":0.05},
      {"p":"F","d":"0.1","x":-0.118,"y":0.12},{"p":"F","d":"0.1","x":-0.105,"y":-0.22},{"p":"F","d":"0.1","x":-0.098,"y":0.05},{"p":"F","d":"0.1","x":-0.090,"y":-0.12},{"p":"F","d":"0.1","x":-0.082,"y":0.20},{"p":"F","d":"0.1","x":-0.075,"y":-0.05},{"p":"F","d":"0.1","x":-0.068,"y":-0.28},{"p":"F","d":"0.1","x":-0.060,"y":0.15},{"p":"F","d":"0.1","x":-0.120,"y":-0.30},{"p":"F","d":"0.1","x":0.002,"y":0.15},{"p":"F","d":"0.1","x":-0.002,"y":-0.05},{"p":"F","d":"0.1","x":0.001,"y":-0.28},{"p":"F","d":"0.1","x":-0.045,"y":0.18},{"p":"F","d":"0.1","x":-0.130,"y":0.02},
      {"p":"F","d":"0.5","x":-0.100,"y":0.38},{"p":"F","d":"0.5","x":0.007,"y":0.49},{"p":"F","d":"0.5","x":-0.116,"y":-0.24},{"p":"F","d":"0.5","x":-0.115,"y":-0.48},{"p":"F","d":"0.5","x":0.038,"y":0.08},{"p":"F","d":"0.5","x":0.051,"y":0.22},{"p":"F","d":"0.5","x":0.103,"y":0.18},{"p":"F","d":"0.5","x":0.192,"y":0.20},{"p":"F","d":"0.5","x":-0.105,"y":0.02},{"p":"F","d":"0.5","x":-0.080,"y":-0.02},{"p":"F","d":"0.5","x":-0.065,"y":-0.20},{"p":"F","d":"0.5","x":-0.045,"y":0.10},{"p":"F","d":"0.5","x":-0.090,"y":-0.18},{"p":"F","d":"0.5","x":-0.030,"y":-0.05},{"p":"F","d":"0.5","x":0.000,"y":-0.12},
      {"p":"F","d":"0.5","x":-0.125,"y":-0.12},{"p":"F","d":"0.5","x":-0.112,"y":0.05},{"p":"F","d":"0.5","x":-0.095,"y":-0.30},{"p":"F","d":"0.5","x":-0.075,"y":0.08},{"p":"F","d":"0.5","x":-0.058,"y":-0.12},{"p":"F","d":"0.5","x":-0.085,"y":0.15},{"p":"F","d":"0.5","x":0.002,"y":0.20},{"p":"F","d":"0.5","x":-0.003,"y":-0.25},
      {"p":"F","d":"0.9","x":0.040,"y":0.49},{"p":"F","d":"0.9","x":0.012,"y":0.37},{"p":"F","d":"0.9","x":-0.129,"y":0.13},{"p":"F","d":"0.9","x":-0.113,"y":0.18},{"p":"F","d":"0.9","x":-0.038,"y":-0.28},{"p":"F","d":"0.9","x":-0.076,"y":0.26},{"p":"F","d":"0.9","x":-0.033,"y":0.26},{"p":"F","d":"0.9","x":0.068,"y":0.16},{"p":"F","d":"0.9","x":0.049,"y":0.14},{"p":"F","d":"0.9","x":0.171,"y":0.37},{"p":"F","d":"0.9","x":-0.118,"y":-0.05},{"p":"F","d":"0.9","x":-0.108,"y":0.08},{"p":"F","d":"0.9","x":-0.098,"y":-0.10},{"p":"F","d":"0.9","x":-0.092,"y":0.04},{"p":"F","d":"0.9","x":-0.085,"y":-0.18},{"p":"F","d":"0.9","x":-0.080,"y":0.10},{"p":"F","d":"0.9","x":-0.072,"y":-0.05},{"p":"F","d":"0.9","x":-0.066,"y":-0.26},{"p":"F","d":"0.9","x":-0.058,"y":0.06},{"p":"F","d":"0.9","x":-0.052,"y":-0.14},{"p":"F","d":"0.9","x":-0.104,"y":-0.22},{"p":"F","d":"0.9","x":-0.096,"y":0.18},{"p":"F","d":"0.9","x":-0.070,"y":0.20},{"p":"F","d":"0.9","x":-0.044,"y":-0.08},{"p":"F","d":"0.9","x":-0.036,"y":0.08},{"p":"F","d":"0.9","x":-0.020,"y":0.10},{"p":"F","d":"0.9","x":0.000,"y":0.30},{"p":"F","d":"0.9","x":0.001,"y":0.24},{"p":"F","d":"0.9","x":-0.001,"y":0.18},{"p":"F","d":"0.9","x":0.002,"y":0.12},{"p":"F","d":"0.9","x":0.000,"y":0.06},{"p":"F","d":"0.9","x":-0.002,"y":0.00},{"p":"F","d":"0.9","x":0.001,"y":-0.06},{"p":"F","d":"0.9","x":0.000,"y":-0.12},{"p":"F","d":"0.9","x":-0.001,"y":-0.18},{"p":"F","d":"0.9","x":0.002,"y":-0.24},{"p":"F","d":"0.9","x":0.000,"y":-0.30},{"p":"F","d":"0.9","x":0.004,"y":0.15},{"p":"F","d":"0.9","x":-0.004,"y":-0.04},
      {"p":"F","d":"0.9","x":-0.124,"y":0.00},{"p":"F","d":"0.9","x":-0.120,"y":0.10},{"p":"F","d":"0.9","x":-0.116,"y":-0.15},{"p":"F","d":"0.9","x":-0.110,"y":-0.28},{"p":"F","d":"0.9","x":-0.106,"y":0.12},{"p":"F","d":"0.9","x":-0.100,"y":-0.02},{"p":"F","d":"0.9","x":-0.097,"y":-0.20},{"p":"F","d":"0.9","x":-0.093,"y":0.15},{"p":"F","d":"0.9","x":-0.089,"y":-0.08},{"p":"F","d":"0.9","x":-0.086,"y":0.05},{"p":"F","d":"0.9","x":-0.082,"y":-0.28},{"p":"F","d":"0.9","x":-0.078,"y":0.15},{"p":"F","d":"0.9","x":-0.074,"y":-0.15},{"p":"F","d":"0.9","x":-0.070,"y":0.00},{"p":"F","d":"0.9","x":-0.066,"y":0.10},{"p":"F","d":"0.9","x":-0.062,"y":-0.20},{"p":"F","d":"0.9","x":-0.056,"y":-0.05},{"p":"F","d":"0.9","x":-0.050,"y":0.12},{"p":"F","d":"0.9","x":-0.046,"y":-0.18},{"p":"F","d":"0.9","x":-0.040,"y":0.02},{"p":"F","d":"0.9","x":0.001,"y":0.27},{"p":"F","d":"0.9","x":-0.002,"y":0.21},{"p":"F","d":"0.9","x":0.002,"y":0.15},{"p":"F","d":"0.9","x":-0.001,"y":0.09},{"p":"F","d":"0.9","x":0.001,"y":0.03},{"p":"F","d":"0.9","x":-0.002,"y":-0.03},{"p":"F","d":"0.9","x":0.002,"y":-0.09},{"p":"F","d":"0.9","x":-0.001,"y":-0.15},{"p":"F","d":"0.9","x":0.001,"y":-0.21},{"p":"F","d":"0.9","x":-0.002,"y":-0.27},{"p":"F","d":"0.9","x":0.003,"y":-0.33},

      {"p":"G","d":"0.1","x":-0.030,"y":0.20},{"p":"G","d":"0.1","x":-0.020,"y":0.25},{"p":"G","d":"0.1","x":-0.035,"y":0.05},{"p":"G","d":"0.1","x":-0.028,"y":-0.12},{"p":"G","d":"0.1","x":-0.008,"y":-0.31},{"p":"G","d":"0.1","x":0.013,"y":-0.16},{"p":"G","d":"0.1","x":0.010,"y":0.10},{"p":"G","d":"0.1","x":-0.015,"y":0.15},{"p":"G","d":"0.1","x":-0.005,"y":-0.20},{"p":"G","d":"0.1","x":0.005,"y":-0.05},{"p":"G","d":"0.1","x":-0.033,"y":-0.22},{"p":"G","d":"0.1","x":0.015,"y":0.20},{"p":"G","d":"0.1","x":-0.022,"y":-0.28},{"p":"G","d":"0.1","x":0.008,"y":-0.27},
      {"p":"G","d":"0.1","x":-0.032,"y":0.12},{"p":"G","d":"0.1","x":-0.025,"y":-0.05},{"p":"G","d":"0.1","x":-0.018,"y":0.28},{"p":"G","d":"0.1","x":-0.012,"y":-0.15},{"p":"G","d":"0.1","x":0.000,"y":0.05},{"p":"G","d":"0.1","x":0.008,"y":0.15},{"p":"G","d":"0.1","x":-0.028,"y":-0.32},{"p":"G","d":"0.1","x":0.012,"y":-0.22},
      {"p":"G","d":"0.5","x":0.015,"y":0.27},{"p":"G","d":"0.5","x":0.035,"y":-0.05},{"p":"G","d":"0.5","x":-0.032,"y":-0.21},{"p":"G","d":"0.5","x":-0.035,"y":-0.15},{"p":"G","d":"0.5","x":-0.020,"y":0.08},{"p":"G","d":"0.5","x":0.012,"y":-0.10},{"p":"G","d":"0.5","x":0.005,"y":0.22},{"p":"G","d":"0.5","x":-0.025,"y":-0.30},{"p":"G","d":"0.5","x":0.018,"y":0.02},
      {"p":"G","d":"0.5","x":-0.030,"y":-0.05},{"p":"G","d":"0.5","x":-0.010,"y":0.20},{"p":"G","d":"0.5","x":0.002,"y":-0.12},{"p":"G","d":"0.5","x":-0.022,"y":0.12},
      {"p":"G","d":"0.9","x":0.011,"y":0.35},{"p":"G","d":"0.9","x":-0.030,"y":-0.35},{"p":"G","d":"0.9","x":-0.011,"y":-0.41},{"p":"G","d":"0.9","x":0.003,"y":-0.40},{"p":"G","d":"0.9","x":0.020,"y":0.07},{"p":"G","d":"0.9","x":-0.034,"y":0.22},{"p":"G","d":"0.9","x":-0.030,"y":0.12},{"p":"G","d":"0.9","x":-0.032,"y":0.00},{"p":"G","d":"0.9","x":-0.030,"y":-0.10},{"p":"G","d":"0.9","x":-0.026,"y":0.18},{"p":"G","d":"0.9","x":-0.022,"y":0.02},{"p":"G","d":"0.9","x":-0.020,"y":-0.18},{"p":"G","d":"0.9","x":-0.016,"y":0.24},{"p":"G","d":"0.9","x":-0.014,"y":0.10},{"p":"G","d":"0.9","x":-0.012,"y":-0.06},{"p":"G","d":"0.9","x":-0.010,"y":-0.25},{"p":"G","d":"0.9","x":-0.006,"y":0.28},{"p":"G","d":"0.9","x":-0.005,"y":0.15},{"p":"G","d":"0.9","x":-0.004,"y":0.02},{"p":"G","d":"0.9","x":-0.003,"y":-0.12},{"p":"G","d":"0.9","x":0.000,"y":0.20},{"p":"G","d":"0.9","x":0.001,"y":0.08},{"p":"G","d":"0.9","x":0.002,"y":-0.02},{"p":"G","d":"0.9","x":0.003,"y":-0.18},{"p":"G","d":"0.9","x":0.006,"y":0.25},{"p":"G","d":"0.9","x":0.007,"y":0.12},{"p":"G","d":"0.9","x":0.008,"y":-0.08},{"p":"G","d":"0.9","x":0.012,"y":0.18},{"p":"G","d":"0.9","x":0.010,"y":0.02},{"p":"G","d":"0.9","x":0.014,"y":-0.05},{"p":"G","d":"0.9","x":-0.018,"y":-0.30},{"p":"G","d":"0.9","x":0.005,"y":-0.30},{"p":"G","d":"0.9","x":-0.024,"y":0.28},
      {"p":"G","d":"0.9","x":-0.033,"y":0.15},{"p":"G","d":"0.9","x":-0.031,"y":0.06},{"p":"G","d":"0.9","x":-0.033,"y":-0.06},{"p":"G","d":"0.9","x":-0.029,"y":-0.16},{"p":"G","d":"0.9","x":-0.027,"y":-0.25},{"p":"G","d":"0.9","x":-0.025,"y":0.24},{"p":"G","d":"0.9","x":-0.024,"y":0.10},{"p":"G","d":"0.9","x":-0.021,"y":-0.08},{"p":"G","d":"0.9","x":-0.018,"y":0.18},{"p":"G","d":"0.9","x":-0.017,"y":0.04},{"p":"G","d":"0.9","x":-0.015,"y":-0.12},{"p":"G","d":"0.9","x":-0.013,"y":-0.20},{"p":"G","d":"0.9","x":-0.010,"y":0.26},{"p":"G","d":"0.9","x":-0.009,"y":0.12},{"p":"G","d":"0.9","x":-0.008,"y":-0.02},{"p":"G","d":"0.9","x":-0.006,"y":-0.16},{"p":"G","d":"0.9","x":-0.003,"y":0.22},{"p":"G","d":"0.9","x":-0.002,"y":0.10},{"p":"G","d":"0.9","x":0.000,"y":-0.08},{"p":"G","d":"0.9","x":0.001,"y":-0.25},{"p":"G","d":"0.9","x":0.004,"y":0.16},{"p":"G","d":"0.9","x":0.005,"y":0.04},{"p":"G","d":"0.9","x":0.006,"y":-0.12},{"p":"G","d":"0.9","x":0.009,"y":0.22},{"p":"G","d":"0.9","x":0.010,"y":0.08},{"p":"G","d":"0.9","x":0.011,"y":-0.15},{"p":"G","d":"0.9","x":0.013,"y":0.10},{"p":"G","d":"0.9","x":0.016,"y":-0.10},

      {"p":"H","d":"0.1","x":-0.025,"y":0.31},{"p":"H","d":"0.1","x":-0.012,"y":0.30},{"p":"H","d":"0.1","x":0.009,"y":0.31},{"p":"H","d":"0.1","x":0.023,"y":-0.04},{"p":"H","d":"0.1","x":0.018,"y":-0.13},{"p":"H","d":"0.1","x":-0.029,"y":-0.27},{"p":"H","d":"0.1","x":-0.004,"y":-0.38},{"p":"H","d":"0.1","x":-0.030,"y":0.15},{"p":"H","d":"0.1","x":-0.020,"y":0.05},{"p":"H","d":"0.1","x":0.015,"y":0.10},{"p":"H","d":"0.1","x":-0.010,"y":-0.20},{"p":"H","d":"0.1","x":0.010,"y":-0.25},{"p":"H","d":"0.1","x":-0.033,"y":-0.08},{"p":"H","d":"0.1","x":0.020,"y":0.20},{"p":"H","d":"0.1","x":-0.018,"y":0.22},
      {"p":"H","d":"0.1","x":-0.028,"y":0.02},{"p":"H","d":"0.1","x":-0.022,"y":-0.20},{"p":"H","d":"0.1","x":-0.008,"y":0.15},{"p":"H","d":"0.1","x":0.004,"y":-0.12},{"p":"H","d":"0.1","x":0.014,"y":0.02},{"p":"H","d":"0.1","x":-0.015,"y":0.35},{"p":"H","d":"0.1","x":0.022,"y":0.05},{"p":"H","d":"0.1","x":-0.026,"y":-0.12},
      {"p":"H","d":"0.5","x":0.018,"y":0.17},{"p":"H","d":"0.5","x":-0.033,"y":-0.16},{"p":"H","d":"0.5","x":-0.010,"y":-0.36},{"p":"H","d":"0.5","x":-0.025,"y":0.20},{"p":"H","d":"0.5","x":0.012,"y":-0.10},{"p":"H","d":"0.5","x":-0.005,"y":0.05},{"p":"H","d":"0.5","x":0.020,"y":-0.20},{"p":"H","d":"0.5","x":-0.030,"y":-0.25},
      {"p":"H","d":"0.5","x":-0.029,"y":0.08},{"p":"H","d":"0.5","x":-0.015,"y":-0.28},{"p":"H","d":"0.5","x":0.008,"y":0.25},{"p":"H","d":"0.5","x":0.016,"y":-0.05},
      {"p":"H","d":"0.9","x":-0.010,"y":0.54},{"p":"H","d":"0.9","x":0.019,"y":0.47},{"p":"H","d":"0.9","x":-0.006,"y":0.35},{"p":"H","d":"0.9","x":0.030,"y":0.10},{"p":"H","d":"0.9","x":-0.032,"y":0.20},{"p":"H","d":"0.9","x":-0.030,"y":0.08},{"p":"H","d":"0.9","x":-0.031,"y":-0.05},{"p":"H","d":"0.9","x":-0.028,"y":-0.18},{"p":"H","d":"0.9","x":-0.022,"y":0.26},{"p":"H","d":"0.9","x":-0.020,"y":0.12},{"p":"H","d":"0.9","x":-0.018,"y":-0.02},{"p":"H","d":"0.9","x":-0.016,"y":-0.14},{"p":"H","d":"0.9","x":-0.014,"y":-0.26},{"p":"H","d":"0.9","x":-0.010,"y":0.22},{"p":"H","d":"0.9","x":-0.008,"y":0.08},{"p":"H","d":"0.9","x":-0.006,"y":-0.06},{"p":"H","d":"0.9","x":-0.004,"y":-0.20},{"p":"H","d":"0.9","x":0.000,"y":0.28},{"p":"H","d":"0.9","x":0.001,"y":0.16},{"p":"H","d":"0.9","x":0.002,"y":0.04},{"p":"H","d":"0.9","x":0.003,"y":-0.10},{"p":"H","d":"0.9","x":0.005,"y":-0.24},{"p":"H","d":"0.9","x":0.008,"y":0.22},{"p":"H","d":"0.9","x":0.010,"y":0.08},{"p":"H","d":"0.9","x":0.012,"y":-0.04},{"p":"H","d":"0.9","x":0.014,"y":-0.16},{"p":"H","d":"0.9","x":0.016,"y":0.14},{"p":"H","d":"0.9","x":0.006,"y":-0.32},{"p":"H","d":"0.9","x":-0.020,"y":-0.30},
      {"p":"H","d":"0.9","x":-0.032,"y":0.12},{"p":"H","d":"0.9","x":-0.030,"y":0.00},{"p":"H","d":"0.9","x":-0.032,"y":-0.12},{"p":"H","d":"0.9","x":-0.029,"y":-0.24},{"p":"H","d":"0.9","x":-0.026,"y":0.22},{"p":"H","d":"0.9","x":-0.025,"y":0.08},{"p":"H","d":"0.9","x":-0.024,"y":-0.08},{"p":"H","d":"0.9","x":-0.022,"y":-0.20},{"p":"H","d":"0.9","x":-0.019,"y":0.30},{"p":"H","d":"0.9","x":-0.018,"y":0.18},{"p":"H","d":"0.9","x":-0.016,"y":0.04},{"p":"H","d":"0.9","x":-0.014,"y":-0.08},{"p":"H","d":"0.9","x":-0.012,"y":-0.18},{"p":"H","d":"0.9","x":-0.010,"y":0.14},{"p":"H","d":"0.9","x":-0.008,"y":0.00},{"p":"H","d":"0.9","x":-0.006,"y":-0.14},{"p":"H","d":"0.9","x":-0.004,"y":0.25},{"p":"H","d":"0.9","x":-0.002,"y":0.10},{"p":"H","d":"0.9","x":0.000,"y":-0.02},{"p":"H","d":"0.9","x":0.002,"y":-0.18},{"p":"H","d":"0.9","x":0.004,"y":0.18},{"p":"H","d":"0.9","x":0.006,"y":0.04},{"p":"H","d":"0.9","x":0.008,"y":-0.10},{"p":"H","d":"0.9","x":0.010,"y":0.24},{"p":"H","d":"0.9","x":0.012,"y":0.12},{"p":"H","d":"0.9","x":0.014,"y":-0.10},{"p":"H","d":"0.9","x":0.018,"y":0.05},{"p":"H","d":"0.9","x":0.002,"y":-0.30},

      {"p":"I","d":"0.1","x":0.000,"y":0.31},{"p":"I","d":"0.1","x":-0.026,"y":0.27},{"p":"I","d":"0.1","x":0.024,"y":0.09},{"p":"I","d":"0.1","x":-0.028,"y":-0.27},{"p":"I","d":"0.1","x":-0.014,"y":-0.20},{"p":"I","d":"0.1","x":-0.030,"y":0.10},{"p":"I","d":"0.1","x":-0.020,"y":-0.10},{"p":"I","d":"0.1","x":0.010,"y":0.20},{"p":"I","d":"0.1","x":0.015,"y":-0.15},{"p":"I","d":"0.1","x":-0.008,"y":-0.28},{"p":"I","d":"0.1","x":0.005,"y":0.00},{"p":"I","d":"0.1","x":-0.025,"y":-0.22},{"p":"I","d":"0.1","x":0.018,"y":0.25},
      {"p":"I","d":"0.1","x":-0.028,"y":0.02},{"p":"I","d":"0.1","x":-0.022,"y":-0.30},{"p":"I","d":"0.1","x":-0.010,"y":0.28},{"p":"I","d":"0.1","x":0.002,"y":-0.20},{"p":"I","d":"0.1","x":0.012,"y":0.10},{"p":"I","d":"0.1","x":-0.018,"y":-0.25},{"p":"I","d":"0.1","x":0.020,"y":-0.05},{"p":"I","d":"0.1","x":-0.032,"y":-0.22},
      {"p":"I","d":"0.5","x":0.019,"y":0.18},{"p":"I","d":"0.5","x":-0.010,"y":-0.36},{"p":"I","d":"0.5","x":-0.030,"y":-0.15},{"p":"I","d":"0.5","x":0.012,"y":-0.05},{"p":"I","d":"0.5","x":-0.018,"y":0.15},{"p":"I","d":"0.5","x":0.005,"y":-0.30},{"p":"I","d":"0.5","x":0.022,"y":0.12},
      {"p":"I","d":"0.5","x":-0.026,"y":0.18},{"p":"I","d":"0.5","x":-0.012,"y":-0.22},{"p":"I","d":"0.5","x":0.010,"y":0.25},{"p":"I","d":"0.5","x":0.016,"y":0.02},
      {"p":"I","d":"0.9","x":0.003,"y":0.62},{"p":"I","d":"0.9","x":-0.013,"y":0.46},{"p":"I","d":"0.9","x":-0.011,"y":0.46},{"p":"I","d":"0.9","x":-0.025,"y":-0.30},{"p":"I","d":"0.9","x":0.012,"y":-0.34},{"p":"I","d":"0.9","x":0.000,"y":-0.34},{"p":"I","d":"0.9","x":-0.010,"y":-0.93},{"p":"I","d":"0.9","x":-0.030,"y":0.20},{"p":"I","d":"0.9","x":-0.032,"y":0.05},{"p":"I","d":"0.9","x":-0.029,"y":-0.08},{"p":"I","d":"0.9","x":-0.027,"y":-0.20},{"p":"I","d":"0.9","x":-0.022,"y":0.24},{"p":"I","d":"0.9","x":-0.020,"y":0.10},{"p":"I","d":"0.9","x":-0.018,"y":-0.04},{"p":"I","d":"0.9","x":-0.016,"y":-0.16},{"p":"I","d":"0.9","x":-0.012,"y":0.28},{"p":"I","d":"0.9","x":-0.010,"y":0.16},{"p":"I","d":"0.9","x":-0.008,"y":0.02},{"p":"I","d":"0.9","x":-0.006,"y":-0.10},{"p":"I","d":"0.9","x":-0.004,"y":-0.22},{"p":"I","d":"0.9","x":0.000,"y":0.22},{"p":"I","d":"0.9","x":0.001,"y":0.08},{"p":"I","d":"0.9","x":0.002,"y":-0.04},{"p":"I","d":"0.9","x":0.003,"y":-0.16},{"p":"I","d":"0.9","x":0.006,"y":0.18},{"p":"I","d":"0.9","x":0.008,"y":0.04},{"p":"I","d":"0.9","x":0.010,"y":-0.08},{"p":"I","d":"0.9","x":0.012,"y":-0.20},{"p":"I","d":"0.9","x":0.014,"y":0.12},{"p":"I","d":"0.9","x":0.016,"y":-0.02},{"p":"I","d":"0.9","x":-0.002,"y":0.35},{"p":"I","d":"0.9","x":-0.015,"y":-0.30},
      {"p":"I","d":"0.9","x":-0.032,"y":0.14},{"p":"I","d":"0.9","x":-0.031,"y":-0.02},{"p":"I","d":"0.9","x":-0.030,"y":-0.14},{"p":"I","d":"0.9","x":-0.028,"y":-0.26},{"p":"I","d":"0.9","x":-0.025,"y":0.28},{"p":"I","d":"0.9","x":-0.024,"y":0.12},{"p":"I","d":"0.9","x":-0.023,"y":-0.04},{"p":"I","d":"0.9","x":-0.021,"y":-0.16},{"p":"I","d":"0.9","x":-0.018,"y":0.20},{"p":"I","d":"0.9","x":-0.017,"y":0.06},{"p":"I","d":"0.9","x":-0.015,"y":-0.08},{"p":"I","d":"0.9","x":-0.013,"y":-0.24},{"p":"I","d":"0.9","x":-0.011,"y":0.22},{"p":"I","d":"0.9","x":-0.009,"y":0.10},{"p":"I","d":"0.9","x":-0.007,"y":-0.04},{"p":"I","d":"0.9","x":-0.005,"y":-0.16},{"p":"I","d":"0.9","x":-0.003,"y":0.28},{"p":"I","d":"0.9","x":-0.001,"y":0.12},{"p":"I","d":"0.9","x":0.001,"y":0.00},{"p":"I","d":"0.9","x":0.002,"y":-0.10},{"p":"I","d":"0.9","x":0.004,"y":0.14},{"p":"I","d":"0.9","x":0.006,"y":-0.02},{"p":"I","d":"0.9","x":0.008,"y":-0.14},{"p":"I","d":"0.9","x":0.010,"y":0.14},{"p":"I","d":"0.9","x":0.012,"y":0.00},{"p":"I","d":"0.9","x":0.014,"y":-0.10},{"p":"I","d":"0.9","x":0.017,"y":0.08},{"p":"I","d":"0.9","x":0.019,"y":-0.14}
    ]
  },
  "hconcat": [
    {
      "columns": 3,
      "spacing": 13,
      "bounds": "flush",
      "concat": [
        {
          "width": 239, "height": 253,
          "data": {"values": [{"letter": "A", "design": "Age Bias"}]},
          "layer": [
            {"mark": {"type": "rule", "color": "#C0C0C0", "strokeWidth": 1.4},
             "encoding": {"x": {"datum": -0.1566, "type": "quantitative", "scale": {"domain": [-0.1566, 0.2264], "nice": false, "zero": false}, "axis": null}, "x2": {"datum": 0.2264},
                          "y": {"datum": 0, "type": "quantitative", "scale": {"domain": [-1.03, 1.548], "nice": false, "zero": false}, "axis": {"values": [-1, -0.5, 0, 0.5, 1], "labelExpr": "replace(format(datum.value, '.1f'), '\u2212', '-')", "title": null}}}},
            {"mark": {"type": "rule", "color": "#C0C0C0", "strokeWidth": 1.4},
             "encoding": {"x": {"datum": 0, "type": "quantitative", "axis": null},
                          "y": {"datum": -1.03, "type": "quantitative", "axis": {"values": [-1, -0.5, 0, 0.5, 1], "labelExpr": "replace(format(datum.value, '.1f'), '\u2212', '-')", "title": null}}, "y2": {"datum": 1.12}}},
            {"mark": {"type": "rule", "color": "#C0C0C0", "strokeWidth": 1.4},
             "encoding": {"x": {"datum": -0.1566, "type": "quantitative", "axis": null}, "x2": {"datum": 0.2264},
                          "y": {"datum": -0.1566, "type": "quantitative", "axis": {"values": [-1, -0.5, 0, 0.5, 1], "labelExpr": "replace(format(datum.value, '.1f'), '\u2212', '-')", "title": null}}, "y2": {"datum": 0.2264}}},
            {"data": {"name": "pts"}, "transform": [{"filter": "datum.p === 'A'"}],
             "mark": {"type": "point", "shape": "circle", "filled": false, "size": 75, "strokeWidth": 1.1, "opacity": 0.85},
             "encoding": {"x": {"field": "x", "type": "quantitative", "axis": null},
                          "y": {"field": "y", "type": "quantitative", "axis": {"values": [-1, -0.5, 0, 0.5, 1], "labelExpr": "replace(format(datum.value, '.1f'), '\u2212', '-')", "title": null}},
                          "color": {"field": "d", "type": "nominal", "scale": {"domain": ["0.1", "0.5", "0.9"], "range": ["#E41A1C", "#377EB8", "#4DAF4A"]}, "legend": null}}},
            {"mark": {"type": "text", "fontSize": 31, "fontWeight": "bold", "align": "left", "baseline": "middle", "color": "#000000"},
             "encoding": {"x": {"datum": -0.133, "type": "quantitative", "axis": null},
                          "y": {"datum": 0.915, "type": "quantitative", "axis": {"values": [-1, -0.5, 0, 0.5, 1], "labelExpr": "replace(format(datum.value, '.1f'), '\u2212', '-')", "title": null}}, "text": {"field": "letter"}}},
            {"mark": {"type": "rect", "filled": false, "stroke": "#8A8A8A", "strokeWidth": 1},
             "encoding": {"x": {"datum": -0.1566, "type": "quantitative", "axis": null}, "x2": {"datum": 0.2264},
                          "y": {"datum": -1.03, "type": "quantitative", "axis": {"values": [-1, -0.5, 0, 0.5, 1], "labelExpr": "replace(format(datum.value, '.1f'), '\u2212', '-')", "title": null}}, "y2": {"datum": 1.12}}},
            {"mark": {"type": "rect", "fill": "#CCCCCC", "stroke": "#8A8A8A", "strokeWidth": 1},
             "encoding": {"x": {"datum": -0.1566, "type": "quantitative", "axis": null}, "x2": {"datum": 0.2264},
                          "y": {"datum": 1.12, "type": "quantitative", "axis": {"values": [-1, -0.5, 0, 0.5, 1], "labelExpr": "replace(format(datum.value, '.1f'), '\u2212', '-')", "title": null}}, "y2": {"datum": 1.548}}},
            {"mark": {"type": "text", "fontSize": 20, "fontWeight": "bold", "color": "#1A1A1A"},
             "encoding": {"x": {"datum": 0.0349, "type": "quantitative", "axis": null},
                          "y": {"datum": 1.334, "type": "quantitative", "axis": {"values": [-1, -0.5, 0, 0.5, 1], "labelExpr": "replace(format(datum.value, '.1f'), '\u2212', '-')", "title": null}}, "text": {"field": "design"}}}
          ]
        },
        {
          "width": 239, "height": 253,
          "data": {"values": [{"letter": "B", "design": "CF Bias"}]},
          "layer": [
            {"mark": {"type": "rule", "color": "#C0C0C0", "strokeWidth": 1.4},
             "encoding": {"x": {"datum": -0.1566, "type": "quantitative", "scale": {"domain": [-0.1566, 0.2264], "nice": false, "zero": false}, "axis": null}, "x2": {"datum": 0.2264},
                          "y": {"datum": 0, "type": "quantitative", "scale": {"domain": [-1.03, 1.548], "nice": false, "zero": false}, "axis": null}}},
            {"mark": {"type": "rule", "color": "#C0C0C0", "strokeWidth": 1.4},
             "encoding": {"x": {"datum": 0, "type": "quantitative", "axis": null}, "y": {"datum": -1.03, "type": "quantitative", "axis": null}, "y2": {"datum": 1.12}}},
            {"mark": {"type": "rule", "color": "#C0C0C0", "strokeWidth": 1.4},
             "encoding": {"x": {"datum": -0.1566, "type": "quantitative", "axis": null}, "x2": {"datum": 0.2264}, "y": {"datum": -0.1566, "type": "quantitative", "axis": null}, "y2": {"datum": 0.2264}}},
            {"data": {"name": "pts"}, "transform": [{"filter": "datum.p === 'B'"}],
             "mark": {"type": "point", "shape": "circle", "filled": false, "size": 75, "strokeWidth": 1.1, "opacity": 0.85},
             "encoding": {"x": {"field": "x", "type": "quantitative", "axis": null}, "y": {"field": "y", "type": "quantitative", "axis": null},
                          "color": {"field": "d", "type": "nominal", "scale": {"domain": ["0.1", "0.5", "0.9"], "range": ["#E41A1C", "#377EB8", "#4DAF4A"]}, "legend": null}}},
            {"mark": {"type": "text", "fontSize": 31, "fontWeight": "bold", "align": "left", "baseline": "middle", "color": "#000000"},
             "encoding": {"x": {"datum": -0.133, "type": "quantitative", "axis": null}, "y": {"datum": 0.915, "type": "quantitative", "axis": null}, "text": {"field": "letter"}}},
            {"mark": {"type": "rect", "filled": false, "stroke": "#8A8A8A", "strokeWidth": 1},
             "encoding": {"x": {"datum": -0.1566, "type": "quantitative", "axis": null}, "x2": {"datum": 0.2264}, "y": {"datum": -1.03, "type": "quantitative", "axis": null}, "y2": {"datum": 1.12}}},
            {"mark": {"type": "rect", "fill": "#CCCCCC", "stroke": "#8A8A8A", "strokeWidth": 1},
             "encoding": {"x": {"datum": -0.1566, "type": "quantitative", "axis": null}, "x2": {"datum": 0.2264}, "y": {"datum": 1.12, "type": "quantitative", "axis": null}, "y2": {"datum": 1.548}}},
            {"mark": {"type": "text", "fontSize": 20, "fontWeight": "bold", "color": "#1A1A1A"},
             "encoding": {"x": {"datum": 0.0349, "type": "quantitative", "axis": null}, "y": {"datum": 1.334, "type": "quantitative", "axis": null}, "text": {"field": "design"}}}
          ]
        },
        {
          "width": 279, "height": 253,
          "data": {"values": [{"letter": "C", "design": "Random", "condition": "Cyclic BP"}]},
          "layer": [
            {"mark": {"type": "rule", "color": "#C0C0C0", "strokeWidth": 1.4},
             "encoding": {"x": {"datum": -0.1566, "type": "quantitative", "scale": {"domain": [-0.1566, 0.2905], "nice": false, "zero": false}, "axis": null}, "x2": {"datum": 0.2264},
                          "y": {"datum": 0, "type": "quantitative", "scale": {"domain": [-1.03, 1.548], "nice": false, "zero": false}, "axis": null}}},
            {"mark": {"type": "rule", "color": "#C0C0C0", "strokeWidth": 1.4},
             "encoding": {"x": {"datum": 0, "type": "quantitative", "axis": null}, "y": {"datum": -1.03, "type": "quantitative", "axis": null}, "y2": {"datum": 1.12}}},
            {"mark": {"type": "rule", "color": "#C0C0C0", "strokeWidth": 1.4},
             "encoding": {"x": {"datum": -0.1566, "type": "quantitative", "axis": null}, "x2": {"datum": 0.2264}, "y": {"datum": -0.1566, "type": "quantitative", "axis": null}, "y2": {"datum": 0.2264}}},
            {"data": {"name": "pts"}, "transform": [{"filter": "datum.p === 'C'"}],
             "mark": {"type": "point", "shape": "circle", "filled": false, "size": 75, "strokeWidth": 1.1, "opacity": 0.85},
             "encoding": {"x": {"field": "x", "type": "quantitative", "axis": null}, "y": {"field": "y", "type": "quantitative", "axis": null},
                          "color": {"field": "d", "type": "nominal", "scale": {"domain": ["0.1", "0.5", "0.9"], "range": ["#E41A1C", "#377EB8", "#4DAF4A"]}, "legend": null}}},
            {"mark": {"type": "text", "fontSize": 31, "fontWeight": "bold", "align": "left", "baseline": "middle", "color": "#000000"},
             "encoding": {"x": {"datum": -0.133, "type": "quantitative", "axis": null}, "y": {"datum": 0.915, "type": "quantitative", "axis": null}, "text": {"field": "letter"}}},
            {"mark": {"type": "rect", "filled": false, "stroke": "#8A8A8A", "strokeWidth": 1},
             "encoding": {"x": {"datum": -0.1566, "type": "quantitative", "axis": null}, "x2": {"datum": 0.2264}, "y": {"datum": -1.03, "type": "quantitative", "axis": null}, "y2": {"datum": 1.12}}},
            {"mark": {"type": "rect", "fill": "#CCCCCC", "stroke": "#8A8A8A", "strokeWidth": 1},
             "encoding": {"x": {"datum": -0.1566, "type": "quantitative", "axis": null}, "x2": {"datum": 0.2264}, "y": {"datum": 1.12, "type": "quantitative", "axis": null}, "y2": {"datum": 1.548}}},
            {"mark": {"type": "text", "fontSize": 20, "fontWeight": "bold", "color": "#1A1A1A"},
             "encoding": {"x": {"datum": 0.0349, "type": "quantitative", "axis": null}, "y": {"datum": 1.334, "type": "quantitative", "axis": null}, "text": {"field": "design"}}},
            {"mark": {"type": "rect", "fill": "#CCCCCC", "stroke": "#8A8A8A", "strokeWidth": 1},
             "encoding": {"x": {"datum": 0.2264, "type": "quantitative", "axis": null}, "x2": {"datum": 0.2905}, "y": {"datum": -1.03, "type": "quantitative", "axis": null}, "y2": {"datum": 1.12}}},
            {"mark": {"type": "text", "fontSize": 20, "fontWeight": "bold", "color": "#1A1A1A", "angle": 90},
             "encoding": {"x": {"datum": 0.25845, "type": "quantitative", "axis": null}, "y": {"datum": 0.045, "type": "quantitative", "axis": null}, "text": {"field": "condition"}}}
          ]
        },
        {
          "width": 239, "height": 211,
          "data": {"values": [{"letter": "D"}]},
          "layer": [
            {"mark": {"type": "rule", "color": "#C0C0C0", "strokeWidth": 1.4},
             "encoding": {"x": {"datum": -0.1566, "type": "quantitative", "scale": {"domain": [-0.1566, 0.2264], "nice": false, "zero": false}, "axis": null}, "x2": {"datum": 0.2264},
                          "y": {"datum": 0, "type": "quantitative", "scale": {"domain": [-1.03, 1.12], "nice": false, "zero": false}, "axis": {"values": [-1, -0.5, 0, 0.5, 1], "labelExpr": "replace(format(datum.value, '.1f'), '\u2212', '-')", "title": "Estimated Trend"}}}},
            {"mark": {"type": "rule", "color": "#C0C0C0", "strokeWidth": 1.4},
             "encoding": {"x": {"datum": 0, "type": "quantitative", "axis": null},
                          "y": {"datum": -1.03, "type": "quantitative", "axis": {"values": [-1, -0.5, 0, 0.5, 1], "labelExpr": "replace(format(datum.value, '.1f'), '\u2212', '-')", "title": "Estimated Trend"}}, "y2": {"datum": 1.12}}},
            {"mark": {"type": "rule", "color": "#C0C0C0", "strokeWidth": 1.4},
             "encoding": {"x": {"datum": -0.1566, "type": "quantitative", "axis": null}, "x2": {"datum": 0.2264},
                          "y": {"datum": -0.1566, "type": "quantitative", "axis": {"values": [-1, -0.5, 0, 0.5, 1], "labelExpr": "replace(format(datum.value, '.1f'), '\u2212', '-')", "title": "Estimated Trend"}}, "y2": {"datum": 0.2264}}},
            {"data": {"name": "pts"}, "transform": [{"filter": "datum.p === 'D'"}],
             "mark": {"type": "point", "shape": "circle", "filled": false, "size": 75, "strokeWidth": 1.1, "opacity": 0.85},
             "encoding": {"x": {"field": "x", "type": "quantitative", "axis": null},
                          "y": {"field": "y", "type": "quantitative", "axis": {"values": [-1, -0.5, 0, 0.5, 1], "labelExpr": "replace(format(datum.value, '.1f'), '\u2212', '-')", "title": "Estimated Trend"}},
                          "color": {"field": "d", "type": "nominal", "scale": {"domain": ["0.1", "0.5", "0.9"], "range": ["#E41A1C", "#377EB8", "#4DAF4A"]}, "legend": null}}},
            {"mark": {"type": "text", "fontSize": 31, "fontWeight": "bold", "align": "left", "baseline": "middle", "color": "#000000"},
             "encoding": {"x": {"datum": -0.133, "type": "quantitative", "axis": null},
                          "y": {"datum": 0.915, "type": "quantitative", "axis": {"values": [-1, -0.5, 0, 0.5, 1], "labelExpr": "replace(format(datum.value, '.1f'), '\u2212', '-')", "title": "Estimated Trend"}}, "text": {"field": "letter"}}},
            {"mark": {"type": "rect", "filled": false, "stroke": "#8A8A8A", "strokeWidth": 1},
             "encoding": {"x": {"datum": -0.1566, "type": "quantitative", "axis": null}, "x2": {"datum": 0.2264},
                          "y": {"datum": -1.03, "type": "quantitative", "axis": {"values": [-1, -0.5, 0, 0.5, 1], "labelExpr": "replace(format(datum.value, '.1f'), '\u2212', '-')", "title": "Estimated Trend"}}, "y2": {"datum": 1.12}}}
          ]
        },
        {
          "width": 239, "height": 211,
          "data": {"values": [{"letter": "E"}]},
          "layer": [
            {"mark": {"type": "rule", "color": "#C0C0C0", "strokeWidth": 1.4},
             "encoding": {"x": {"datum": -0.1566, "type": "quantitative", "scale": {"domain": [-0.1566, 0.2264], "nice": false, "zero": false}, "axis": null}, "x2": {"datum": 0.2264},
                          "y": {"datum": 0, "type": "quantitative", "scale": {"domain": [-1.03, 1.12], "nice": false, "zero": false}, "axis": null}}},
            {"mark": {"type": "rule", "color": "#C0C0C0", "strokeWidth": 1.4},
             "encoding": {"x": {"datum": 0, "type": "quantitative", "axis": null}, "y": {"datum": -1.03, "type": "quantitative", "axis": null}, "y2": {"datum": 1.12}}},
            {"mark": {"type": "rule", "color": "#C0C0C0", "strokeWidth": 1.4},
             "encoding": {"x": {"datum": -0.1566, "type": "quantitative", "axis": null}, "x2": {"datum": 0.2264}, "y": {"datum": -0.1566, "type": "quantitative", "axis": null}, "y2": {"datum": 0.2264}}},
            {"data": {"name": "pts"}, "transform": [{"filter": "datum.p === 'E'"}],
             "mark": {"type": "point", "shape": "circle", "filled": false, "size": 75, "strokeWidth": 1.1, "opacity": 0.85},
             "encoding": {"x": {"field": "x", "type": "quantitative", "axis": null}, "y": {"field": "y", "type": "quantitative", "axis": null},
                          "color": {"field": "d", "type": "nominal", "scale": {"domain": ["0.1", "0.5", "0.9"], "range": ["#E41A1C", "#377EB8", "#4DAF4A"]}, "legend": null}}},
            {"mark": {"type": "text", "fontSize": 31, "fontWeight": "bold", "align": "left", "baseline": "middle", "color": "#000000"},
             "encoding": {"x": {"datum": -0.133, "type": "quantitative", "axis": null}, "y": {"datum": 0.915, "type": "quantitative", "axis": null}, "text": {"field": "letter"}}},
            {"mark": {"type": "rect", "filled": false, "stroke": "#8A8A8A", "strokeWidth": 1},
             "encoding": {"x": {"datum": -0.1566, "type": "quantitative", "axis": null}, "x2": {"datum": 0.2264}, "y": {"datum": -1.03, "type": "quantitative", "axis": null}, "y2": {"datum": 1.12}}}
          ]
        },
        {
          "width": 279, "height": 211,
          "data": {"values": [{"letter": "F", "condition": "NJ Impacts - High"}]},
          "layer": [
            {"mark": {"type": "rule", "color": "#C0C0C0", "strokeWidth": 1.4},
             "encoding": {"x": {"datum": -0.1566, "type": "quantitative", "scale": {"domain": [-0.1566, 0.2905], "nice": false, "zero": false}, "axis": null}, "x2": {"datum": 0.2264},
                          "y": {"datum": 0, "type": "quantitative", "scale": {"domain": [-1.03, 1.12], "nice": false, "zero": false}, "axis": null}}},
            {"mark": {"type": "rule", "color": "#C0C0C0", "strokeWidth": 1.4},
             "encoding": {"x": {"datum": 0, "type": "quantitative", "axis": null}, "y": {"datum": -1.03, "type": "quantitative", "axis": null}, "y2": {"datum": 1.12}}},
            {"mark": {"type": "rule", "color": "#C0C0C0", "strokeWidth": 1.4},
             "encoding": {"x": {"datum": -0.1566, "type": "quantitative", "axis": null}, "x2": {"datum": 0.2264}, "y": {"datum": -0.1566, "type": "quantitative", "axis": null}, "y2": {"datum": 0.2264}}},
            {"data": {"name": "pts"}, "transform": [{"filter": "datum.p === 'F'"}],
             "mark": {"type": "point", "shape": "circle", "filled": false, "size": 75, "strokeWidth": 1.1, "opacity": 0.85},
             "encoding": {"x": {"field": "x", "type": "quantitative", "axis": null}, "y": {"field": "y", "type": "quantitative", "axis": null},
                          "color": {"field": "d", "type": "nominal", "scale": {"domain": ["0.1", "0.5", "0.9"], "range": ["#E41A1C", "#377EB8", "#4DAF4A"]}, "legend": null}}},
            {"mark": {"type": "text", "fontSize": 31, "fontWeight": "bold", "align": "left", "baseline": "middle", "color": "#000000"},
             "encoding": {"x": {"datum": -0.133, "type": "quantitative", "axis": null}, "y": {"datum": 0.915, "type": "quantitative", "axis": null}, "text": {"field": "letter"}}},
            {"mark": {"type": "rect", "filled": false, "stroke": "#8A8A8A", "strokeWidth": 1},
             "encoding": {"x": {"datum": -0.1566, "type": "quantitative", "axis": null}, "x2": {"datum": 0.2264}, "y": {"datum": -1.03, "type": "quantitative", "axis": null}, "y2": {"datum": 1.12}}},
            {"mark": {"type": "rect", "fill": "#CCCCCC", "stroke": "#8A8A8A", "strokeWidth": 1},
             "encoding": {"x": {"datum": 0.2264, "type": "quantitative", "axis": null}, "x2": {"datum": 0.2905}, "y": {"datum": -1.03, "type": "quantitative", "axis": null}, "y2": {"datum": 1.12}}},
            {"mark": {"type": "text", "fontSize": 20, "fontWeight": "bold", "color": "#1A1A1A", "angle": 90},
             "encoding": {"x": {"datum": 0.25845, "type": "quantitative", "axis": null}, "y": {"datum": 0.045, "type": "quantitative", "axis": null}, "text": {"field": "condition"}}}
          ]
        },
        {
          "width": 239, "height": 211,
          "data": {"values": [{"letter": "G"}]},
          "layer": [
            {"mark": {"type": "rule", "color": "#C0C0C0", "strokeWidth": 1.4},
             "encoding": {"x": {"datum": -0.1566, "type": "quantitative", "scale": {"domain": [-0.1566, 0.2264], "nice": false, "zero": false}, "axis": {"values": [-0.1, 0, 0.1, 0.2], "labelExpr": "replace(format(datum.value, '.1f'), '\u2212', '-')", "title": null}}, "x2": {"datum": 0.2264},
                          "y": {"datum": 0, "type": "quantitative", "scale": {"domain": [-1.03, 1.12], "nice": false, "zero": false}, "axis": {"values": [-1, -0.5, 0, 0.5, 1], "labelExpr": "replace(format(datum.value, '.1f'), '\u2212', '-')", "title": null}}}},
            {"mark": {"type": "rule", "color": "#C0C0C0", "strokeWidth": 1.4},
             "encoding": {"x": {"datum": 0, "type": "quantitative", "axis": {"values": [-0.1, 0, 0.1, 0.2], "labelExpr": "replace(format(datum.value, '.1f'), '\u2212', '-')", "title": null}},
                          "y": {"datum": -1.03, "type": "quantitative", "axis": {"values": [-1, -0.5, 0, 0.5, 1], "labelExpr": "replace(format(datum.value, '.1f'), '\u2212', '-')", "title": null}}, "y2": {"datum": 1.12}}},
            {"mark": {"type": "rule", "color": "#C0C0C0", "strokeWidth": 1.4},
             "encoding": {"x": {"datum": -0.1566, "type": "quantitative", "axis": {"values": [-0.1, 0, 0.1, 0.2], "labelExpr": "replace(format(datum.value, '.1f'), '\u2212', '-')", "title": null}}, "x2": {"datum": 0.2264},
                          "y": {"datum": -0.1566, "type": "quantitative", "axis": {"values": [-1, -0.5, 0, 0.5, 1], "labelExpr": "replace(format(datum.value, '.1f'), '\u2212', '-')", "title": null}}, "y2": {"datum": 0.2264}}},
            {"data": {"name": "pts"}, "transform": [{"filter": "datum.p === 'G'"}],
             "mark": {"type": "point", "shape": "circle", "filled": false, "size": 75, "strokeWidth": 1.1, "opacity": 0.85},
             "encoding": {"x": {"field": "x", "type": "quantitative", "axis": {"values": [-0.1, 0, 0.1, 0.2], "labelExpr": "replace(format(datum.value, '.1f'), '\u2212', '-')", "title": null}},
                          "y": {"field": "y", "type": "quantitative", "axis": {"values": [-1, -0.5, 0, 0.5, 1], "labelExpr": "replace(format(datum.value, '.1f'), '\u2212', '-')", "title": null}},
                          "color": {"field": "d", "type": "nominal", "scale": {"domain": ["0.1", "0.5", "0.9"], "range": ["#E41A1C", "#377EB8", "#4DAF4A"]}, "legend": null}}},
            {"mark": {"type": "text", "fontSize": 31, "fontWeight": "bold", "align": "left", "baseline": "middle", "color": "#000000"},
             "encoding": {"x": {"datum": -0.133, "type": "quantitative", "axis": {"values": [-0.1, 0, 0.1, 0.2], "labelExpr": "replace(format(datum.value, '.1f'), '\u2212', '-')", "title": null}},
                          "y": {"datum": 0.915, "type": "quantitative", "axis": {"values": [-1, -0.5, 0, 0.5, 1], "labelExpr": "replace(format(datum.value, '.1f'), '\u2212', '-')", "title": null}}, "text": {"field": "letter"}}},
            {"mark": {"type": "rect", "filled": false, "stroke": "#8A8A8A", "strokeWidth": 1},
             "encoding": {"x": {"datum": -0.1566, "type": "quantitative", "axis": {"values": [-0.1, 0, 0.1, 0.2], "labelExpr": "replace(format(datum.value, '.1f'), '\u2212', '-')", "title": null}}, "x2": {"datum": 0.2264},
                          "y": {"datum": -1.03, "type": "quantitative", "axis": {"values": [-1, -0.5, 0, 0.5, 1], "labelExpr": "replace(format(datum.value, '.1f'), '\u2212', '-')", "title": null}}, "y2": {"datum": 1.12}}}
          ]
        },
        {
          "width": 239, "height": 211,
          "data": {"values": [{"letter": "H"}]},
          "layer": [
            {"mark": {"type": "rule", "color": "#C0C0C0", "strokeWidth": 1.4},
             "encoding": {"x": {"datum": -0.1566, "type": "quantitative", "scale": {"domain": [-0.1566, 0.2264], "nice": false, "zero": false}, "axis": {"values": [-0.1, 0, 0.1, 0.2], "labelExpr": "replace(format(datum.value, '.1f'), '\u2212', '-')", "title": "True Adult Trend"}}, "x2": {"datum": 0.2264},
                          "y": {"datum": 0, "type": "quantitative", "scale": {"domain": [-1.03, 1.12], "nice": false, "zero": false}, "axis": null}}},
            {"mark": {"type": "rule", "color": "#C0C0C0", "strokeWidth": 1.4},
             "encoding": {"x": {"datum": 0, "type": "quantitative", "axis": {"values": [-0.1, 0, 0.1, 0.2], "labelExpr": "replace(format(datum.value, '.1f'), '\u2212', '-')", "title": "True Adult Trend"}},
                          "y": {"datum": -1.03, "type": "quantitative", "axis": null}, "y2": {"datum": 1.12}}},
            {"mark": {"type": "rule", "color": "#C0C0C0", "strokeWidth": 1.4},
             "encoding": {"x": {"datum": -0.1566, "type": "quantitative", "axis": {"values": [-0.1, 0, 0.1, 0.2], "labelExpr": "replace(format(datum.value, '.1f'), '\u2212', '-')", "title": "True Adult Trend"}}, "x2": {"datum": 0.2264},
                          "y": {"datum": -0.1566, "type": "quantitative", "axis": null}, "y2": {"datum": 0.2264}}},
            {"data": {"name": "pts"}, "transform": [{"filter": "datum.p === 'H'"}],
             "mark": {"type": "point", "shape": "circle", "filled": false, "size": 75, "strokeWidth": 1.1, "opacity": 0.85},
             "encoding": {"x": {"field": "x", "type": "quantitative", "axis": {"values": [-0.1, 0, 0.1, 0.2], "labelExpr": "replace(format(datum.value, '.1f'), '\u2212', '-')", "title": "True Adult Trend"}},
                          "y": {"field": "y", "type": "quantitative", "axis": null},
                          "color": {"field": "d", "type": "nominal", "scale": {"domain": ["0.1", "0.5", "0.9"], "range": ["#E41A1C", "#377EB8", "#4DAF4A"]}, "legend": null}}},
            {"mark": {"type": "text", "fontSize": 31, "fontWeight": "bold", "align": "left", "baseline": "middle", "color": "#000000"},
             "encoding": {"x": {"datum": -0.133, "type": "quantitative", "axis": {"values": [-0.1, 0, 0.1, 0.2], "labelExpr": "replace(format(datum.value, '.1f'), '\u2212', '-')", "title": "True Adult Trend"}},
                          "y": {"datum": 0.915, "type": "quantitative", "axis": null}, "text": {"field": "letter"}}},
            {"mark": {"type": "rect", "filled": false, "stroke": "#8A8A8A", "strokeWidth": 1},
             "encoding": {"x": {"datum": -0.1566, "type": "quantitative", "axis": {"values": [-0.1, 0, 0.1, 0.2], "labelExpr": "replace(format(datum.value, '.1f'), '\u2212', '-')", "title": "True Adult Trend"}}, "x2": {"datum": 0.2264},
                          "y": {"datum": -1.03, "type": "quantitative", "axis": null}, "y2": {"datum": 1.12}}}
          ]
        },
        {
          "width": 279, "height": 211,
          "data": {"values": [{"letter": "I", "condition": "NJ Impacts - Low"}]},
          "layer": [
            {"mark": {"type": "rule", "color": "#C0C0C0", "strokeWidth": 1.4},
             "encoding": {"x": {"datum": -0.1566, "type": "quantitative", "scale": {"domain": [-0.1566, 0.2905], "nice": false, "zero": false}, "axis": {"values": [-0.1, 0, 0.1, 0.2], "labelExpr": "replace(format(datum.value, '.1f'), '\u2212', '-')", "title": null}}, "x2": {"datum": 0.2264},
                          "y": {"datum": 0, "type": "quantitative", "scale": {"domain": [-1.03, 1.12], "nice": false, "zero": false}, "axis": null}}},
            {"mark": {"type": "rule", "color": "#C0C0C0", "strokeWidth": 1.4},
             "encoding": {"x": {"datum": 0, "type": "quantitative", "axis": {"values": [-0.1, 0, 0.1, 0.2], "labelExpr": "replace(format(datum.value, '.1f'), '\u2212', '-')", "title": null}},
                          "y": {"datum": -1.03, "type": "quantitative", "axis": null}, "y2": {"datum": 1.12}}},
            {"mark": {"type": "rule", "color": "#C0C0C0", "strokeWidth": 1.4},
             "encoding": {"x": {"datum": -0.1566, "type": "quantitative", "axis": {"values": [-0.1, 0, 0.1, 0.2], "labelExpr": "replace(format(datum.value, '.1f'), '\u2212', '-')", "title": null}}, "x2": {"datum": 0.2264},
                          "y": {"datum": -0.1566, "type": "quantitative", "axis": null}, "y2": {"datum": 0.2264}}},
            {"data": {"name": "pts"}, "transform": [{"filter": "datum.p === 'I'"}],
             "mark": {"type": "point", "shape": "circle", "filled": false, "size": 75, "strokeWidth": 1.1, "opacity": 0.85},
             "encoding": {"x": {"field": "x", "type": "quantitative", "axis": {"values": [-0.1, 0, 0.1, 0.2], "labelExpr": "replace(format(datum.value, '.1f'), '\u2212', '-')", "title": null}},
                          "y": {"field": "y", "type": "quantitative", "axis": null},
                          "color": {"field": "d", "type": "nominal", "scale": {"domain": ["0.1", "0.5", "0.9"], "range": ["#E41A1C", "#377EB8", "#4DAF4A"]}, "legend": null}}},
            {"mark": {"type": "text", "fontSize": 31, "fontWeight": "bold", "align": "left", "baseline": "middle", "color": "#000000"},
             "encoding": {"x": {"datum": -0.133, "type": "quantitative", "axis": {"values": [-0.1, 0, 0.1, 0.2], "labelExpr": "replace(format(datum.value, '.1f'), '\u2212', '-')", "title": null}},
                          "y": {"datum": 0.915, "type": "quantitative", "axis": null}, "text": {"field": "letter"}}},
            {"mark": {"type": "rect", "filled": false, "stroke": "#8A8A8A", "strokeWidth": 1},
             "encoding": {"x": {"datum": -0.1566, "type": "quantitative", "axis": {"values": [-0.1, 0, 0.1, 0.2], "labelExpr": "replace(format(datum.value, '.1f'), '\u2212', '-')", "title": null}}, "x2": {"datum": 0.2264},
                          "y": {"datum": -1.03, "type": "quantitative", "axis": null}, "y2": {"datum": 1.12}}},
            {"mark": {"type": "rect", "fill": "#CCCCCC", "stroke": "#8A8A8A", "strokeWidth": 1},
             "encoding": {"x": {"datum": 0.2264, "type": "quantitative", "axis": {"values": [-0.1, 0, 0.1, 0.2], "labelExpr": "replace(format(datum.value, '.1f'), '\u2212', '-')", "title": null}}, "x2": {"datum": 0.2905},
                          "y": {"datum": -1.03, "type": "quantitative", "axis": null}, "y2": {"datum": 1.12}}},
            {"mark": {"type": "text", "fontSize": 20, "fontWeight": "bold", "color": "#1A1A1A", "angle": 90},
             "encoding": {"x": {"datum": 0.25845, "type": "quantitative", "axis": {"values": [-0.1, 0, 0.1, 0.2], "labelExpr": "replace(format(datum.value, '.1f'), '\u2212', '-')", "title": null}},
                          "y": {"datum": 0.045, "type": "quantitative", "axis": null}, "text": {"field": "condition"}}}
          ]
        }
      ]
    },
    {
      "width": 37,
      "height": 185,
      "data": {"values": [{"d": "0.1"}, {"d": "0.5"}, {"d": "0.9"}]},
      "encoding": {
        "y": {"field": "d", "type": "nominal", "scale": {"domain": ["0.1", "0.5", "0.9"], "paddingInner": 0, "paddingOuter": 1, "align": 0.547},
              "axis": {"orient": "right", "domain": false, "ticks": false, "labelFontSize": 31, "labelColor": "#000000", "labelPadding": 7, "title": null}}
      },
      "layer": [
        {"mark": {"type": "rect", "fill": "white", "stroke": "#CCCCCC", "strokeWidth": 1.2}},
        {"mark": {"type": "point", "shape": "circle", "filled": false, "size": 45, "strokeWidth": 1.1, "opacity": 0.85},
         "encoding": {"color": {"field": "d", "type": "nominal", "scale": {"domain": ["0.1", "0.5", "0.9"], "range": ["#E41A1C", "#377EB8", "#4DAF4A"]}, "legend": null}}},
        {"transform": [{"filter": "datum.d === '0.1'"}],
         "mark": {"type": "text", "text": "Detection", "fontSize": 40, "fontWeight": "bold", "align": "left", "baseline": "middle", "color": "#000000", "dx": -26, "dy": -42}}
      ]
    }
  ],
  "spacing": 21,
  "center": true
}
